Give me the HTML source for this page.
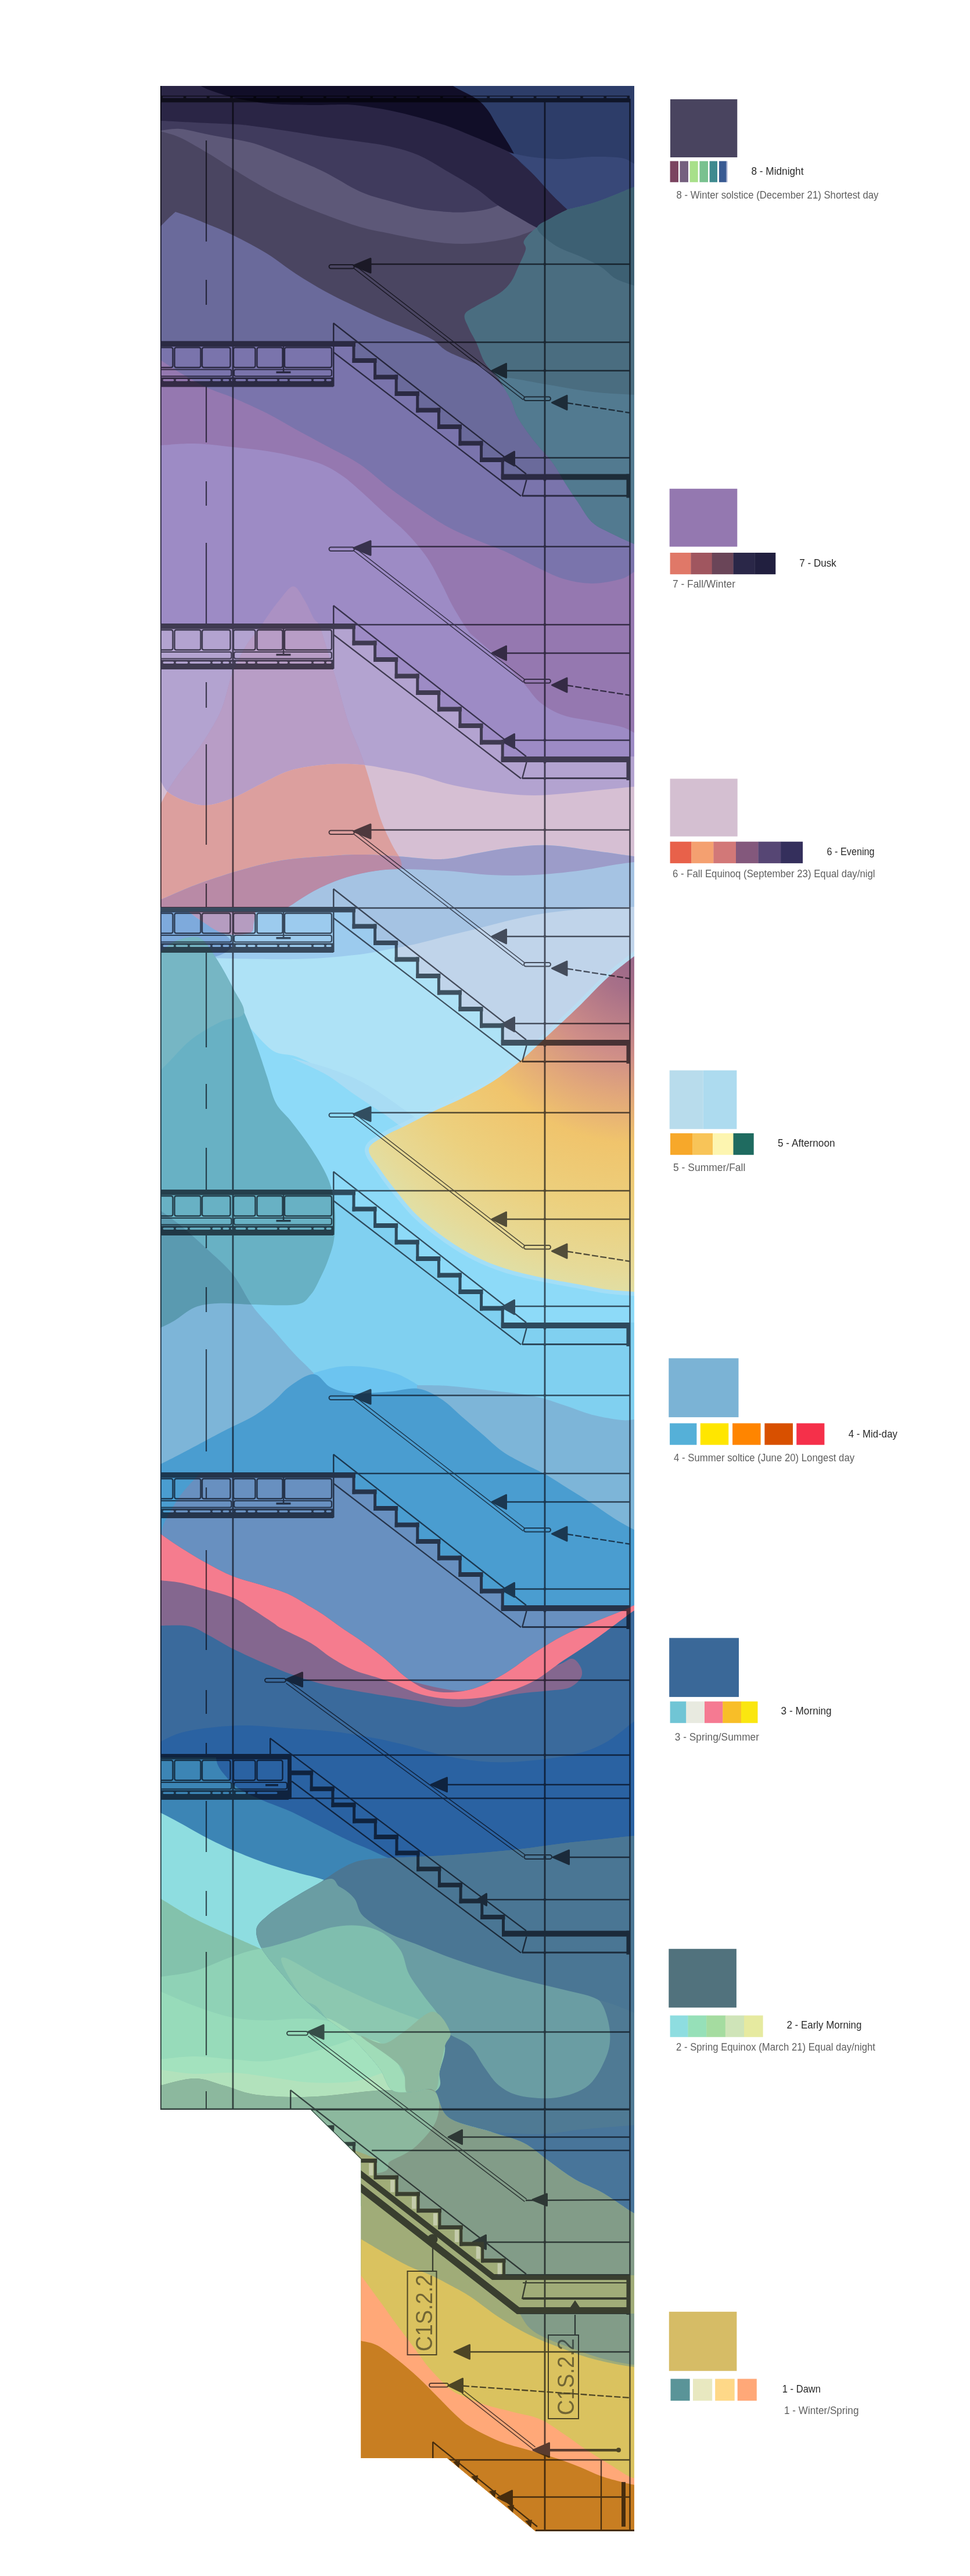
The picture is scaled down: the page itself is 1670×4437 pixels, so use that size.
<!DOCTYPE html>
<html><head><meta charset="utf-8"><title>Stair section colour study</title>
<style>html,body{margin:0;padding:0;background:#fff}body{width:1670px;height:4437px;overflow:hidden}svg{display:block}text{font-family:"Liberation Sans",sans-serif}</style>
</head><body>
<svg width="1670" height="4437" viewBox="0 0 1670 4437">
<defs><clipPath id="pc"><path d="M276 148H1092V4360H922L770 4234H621.5V3719L535 3634H276Z"/></clipPath>
<radialGradient id="sun" gradientUnits="userSpaceOnUse" cx="1100" cy="1640" r="600">
<stop offset="0" stop-color="#96668a"/><stop offset="0.12" stop-color="#a87088"/><stop offset="0.3" stop-color="#cf8e88"/><stop offset="0.42" stop-color="#e2a87a"/><stop offset="0.55" stop-color="#f0c46c"/><stop offset="0.75" stop-color="#ecd07e"/><stop offset="0.92" stop-color="#e6da98"/><stop offset="1" stop-color="#dfe0a8"/></radialGradient><clipPath id="peak"><path d="M505.0 1010.0 C512.5 1010.0 519.2 1025.8 525.0 1035.0 C530.8 1044.2 535.8 1057.8 540.0 1065.0 C544.2 1072.2 545.8 1068.0 550.0 1078.0 C554.2 1088.0 560.0 1108.8 565.0 1125.0 C570.0 1141.2 574.2 1155.0 580.0 1175.0 C585.8 1195.0 593.3 1225.0 600.0 1245.0 C606.7 1265.0 614.2 1279.2 620.0 1295.0 C625.8 1310.8 629.2 1320.8 635.0 1340.0 C640.8 1359.2 648.3 1390.8 655.0 1410.0 C661.7 1429.2 669.2 1443.0 675.0 1455.0 C680.8 1467.0 688.3 1475.0 690.0 1482.0 C691.7 1489.0 694.2 1493.7 685.0 1497.0 C675.8 1500.3 651.7 1499.0 635.0 1502.0 C618.3 1505.0 600.8 1509.5 585.0 1515.0 C569.2 1520.5 554.2 1527.5 540.0 1535.0 C525.8 1542.5 511.7 1552.5 500.0 1560.0 C488.3 1567.5 479.2 1573.7 470.0 1580.0 C460.8 1586.3 451.7 1593.5 445.0 1598.0 C438.3 1602.5 440.0 1605.3 430.0 1607.0 C420.0 1608.7 399.2 1611.7 385.0 1608.0 C370.8 1604.3 355.0 1591.3 345.0 1585.0 C335.0 1578.7 336.5 1573.8 325.0 1570.0 C313.5 1566.2 285.2 1563.7 276.0 1562.0 C266.8 1560.3 270.0 1560.0 270.0 1560.0 L270.0 1385.0 C270.0 1385.0 272.7 1389.2 276.0 1385.0 C279.3 1380.8 284.3 1369.2 290.0 1360.0 C295.7 1350.8 300.8 1342.5 310.0 1330.0 C319.2 1317.5 333.3 1302.5 345.0 1285.0 C356.7 1267.5 370.8 1245.8 380.0 1225.0 C389.2 1204.2 392.5 1179.2 400.0 1160.0 C407.5 1140.8 417.5 1122.5 425.0 1110.0 C432.5 1097.5 439.5 1092.5 445.0 1085.0 C450.5 1077.5 452.2 1073.3 458.0 1065.0 C463.8 1056.7 472.2 1044.2 480.0 1035.0 C487.8 1025.8 497.5 1010.0 505.0 1010.0Z"/></clipPath>
<clipPath id="p2"><path d="M270.0 1075.0 L611.5 1075.0 L611.5 1103.5 L648.1 1103.5 L648.1 1132.0 L684.7 1132.0 L684.7 1160.5 L721.3 1160.5 L721.3 1189.0 L757.9 1189.0 L757.9 1217.5 L794.5 1217.5 L794.5 1246.0 L831.1 1246.0 L831.1 1274.5 L867.7 1274.5 L867.7 1303.0 L1100.0 1303.0 L1100.0 1500.0 L270.0 1500.0 L270.0 1075.0Z"/></clipPath>
<clipPath id="p3"><path d="M270.0 1563.0 L611.5 1563.0 L611.5 1591.5 L648.1 1591.5 L648.1 1620.0 L684.7 1620.0 L684.7 1648.5 L721.3 1648.5 L721.3 1677.0 L757.9 1677.0 L757.9 1705.5 L794.5 1705.5 L794.5 1734.0 L831.1 1734.0 L831.1 1762.5 L867.7 1762.5 L867.7 1791.0 L1100.0 1791.0 L1100.0 2300.0 L270.0 2300.0 L270.0 1563.0Z"/></clipPath>
<clipPath id="teal"><path d="M330.0 1614.0 C338.3 1613.7 342.5 1613.2 350.0 1620.0 C357.5 1626.8 366.7 1641.7 375.0 1655.0 C383.3 1668.3 391.7 1683.3 400.0 1700.0 C408.3 1716.7 417.5 1736.7 425.0 1755.0 C432.5 1773.3 439.2 1793.3 445.0 1810.0 C450.8 1826.7 455.0 1840.0 460.0 1855.0 C465.0 1870.0 468.3 1887.5 475.0 1900.0 C481.7 1912.5 490.8 1918.3 500.0 1930.0 C509.2 1941.7 520.8 1956.7 530.0 1970.0 C539.2 1983.3 548.3 1997.5 555.0 2010.0 C561.7 2022.5 566.3 2031.7 570.0 2045.0 C573.7 2058.3 576.2 2075.0 577.0 2090.0 C577.8 2105.0 577.0 2121.7 575.0 2135.0 C573.0 2148.3 568.8 2159.2 565.0 2170.0 C561.2 2180.8 557.0 2190.0 552.0 2200.0 C547.0 2210.0 542.0 2222.2 535.0 2230.0 C528.0 2237.8 526.7 2244.2 510.0 2247.0 C493.3 2249.8 457.5 2247.3 435.0 2247.0 C412.5 2246.7 391.7 2244.2 375.0 2245.0 C358.3 2245.8 347.5 2247.0 335.0 2252.0 C322.5 2257.0 309.8 2269.2 300.0 2275.0 C290.2 2280.8 281.0 2284.5 276.0 2287.0 C271.0 2289.5 270.0 2290.0 270.0 2290.0 L270.0 1642.0 C270.0 1642.0 271.0 1643.3 276.0 1640.0 C281.0 1636.7 291.0 1626.3 300.0 1622.0 C309.0 1617.7 321.7 1614.3 330.0 1614.0Z"/></clipPath>
<clipPath id="blob"><path d="M555.0 3240.0 C565.8 3233.3 574.2 3225.8 585.0 3220.0 C595.8 3214.2 605.0 3208.3 620.0 3205.0 C635.0 3201.7 654.2 3201.3 675.0 3200.0 C695.8 3198.7 720.8 3198.3 745.0 3197.0 C769.2 3195.7 795.0 3194.0 820.0 3192.0 C845.0 3190.0 870.0 3187.8 895.0 3185.0 C920.0 3182.2 945.0 3178.0 970.0 3175.0 C995.0 3172.0 1024.7 3169.2 1045.0 3167.0 C1065.3 3164.8 1082.8 3163.2 1092.0 3162.0 C1101.2 3160.8 1100.0 3160.0 1100.0 3160.0 L1100.0 3816.0 C1100.0 3816.0 1095.3 3814.5 1085.0 3808.0 C1074.7 3801.5 1054.0 3786.2 1038.0 3777.0 C1022.0 3767.8 1004.5 3762.2 989.0 3753.0 C973.5 3743.8 959.5 3732.3 945.0 3722.0 C930.5 3711.7 918.5 3699.3 902.0 3691.0 C885.5 3682.7 867.7 3679.3 846.0 3672.0 C824.3 3664.7 788.5 3659.0 772.0 3647.0 C755.5 3635.0 757.3 3607.3 747.0 3600.0 C736.7 3592.7 722.0 3603.0 710.0 3603.0 C698.0 3603.0 684.2 3606.3 675.0 3600.0 C665.8 3593.7 662.5 3575.8 655.0 3565.0 C647.5 3554.2 639.2 3545.0 630.0 3535.0 C620.8 3525.0 611.7 3515.0 600.0 3505.0 C588.3 3495.0 573.3 3485.8 560.0 3475.0 C546.7 3464.2 532.5 3452.5 520.0 3440.0 C507.5 3427.5 495.0 3411.7 485.0 3400.0 C475.0 3388.3 466.7 3379.2 460.0 3370.0 C453.3 3360.8 448.0 3353.3 445.0 3345.0 C442.0 3336.7 439.5 3327.5 442.0 3320.0 C444.5 3312.5 453.7 3305.8 460.0 3300.0 C466.3 3294.2 470.0 3291.7 480.0 3285.0 C490.0 3278.3 507.5 3267.5 520.0 3260.0 C532.5 3252.5 544.2 3246.7 555.0 3240.0Z"/></clipPath>
</defs>
<rect width="1670" height="4437" fill="#fff"/>
<g clip-path="url(#pc)">
<rect x="270" y="140" width="830" height="700" fill="#4a4561"/>
<path d="M270.0 224.0 C270.0 224.0 269.3 223.8 276.0 226.0 C282.7 228.2 296.0 230.5 310.0 237.0 C324.0 243.5 344.8 256.0 360.0 265.0 C375.2 274.0 384.3 280.8 401.0 291.0 C417.7 301.2 441.8 316.2 460.0 326.0 C478.2 335.8 493.3 342.7 510.0 350.0 C526.7 357.3 541.7 363.2 560.0 370.0 C578.3 376.8 601.7 385.7 620.0 391.0 C638.3 396.3 653.3 398.5 670.0 402.0 C686.7 405.5 703.3 409.2 720.0 412.0 C736.7 414.8 753.3 417.8 770.0 419.0 C786.7 420.2 803.3 420.2 820.0 419.0 C836.7 417.8 855.8 414.8 870.0 412.0 C884.2 409.2 890.0 407.3 905.0 402.0 C920.0 396.7 960.0 380.0 960.0 380.0 L1100.0 300.0 L1100.0 140.0 L270.0 140.0 L270.0 224.0Z" fill="#5d5878"/>
<path d="M270.0 224.0 C270.0 224.0 269.3 225.3 276.0 225.0 C282.7 224.7 296.0 220.8 310.0 222.0 C324.0 223.2 340.8 228.3 360.0 232.0 C379.2 235.7 408.3 240.2 425.0 244.0 C441.7 247.8 445.8 249.8 460.0 255.0 C474.2 260.2 493.3 268.0 510.0 275.0 C526.7 282.0 541.7 287.8 560.0 297.0 C578.3 306.2 601.7 321.8 620.0 330.0 C638.3 338.2 653.3 341.2 670.0 346.0 C686.7 350.8 703.3 355.8 720.0 359.0 C736.7 362.2 755.8 364.0 770.0 365.0 C784.2 366.0 791.7 366.3 805.0 365.0 C818.3 363.7 834.2 362.8 850.0 357.0 C865.8 351.2 900.0 330.0 900.0 330.0 L1100.0 300.0 L1100.0 140.0 L270.0 140.0 L270.0 224.0Z" fill="#403b5d"/>
<path d="M270.0 208.0 C270.0 208.0 265.0 207.5 276.0 208.0 C287.0 208.5 315.0 210.0 336.0 211.0 C357.0 212.0 385.5 213.0 402.0 214.0 C418.5 215.0 418.5 214.9 435.0 217.0 C451.5 219.1 480.2 223.3 501.0 226.5 C521.8 229.7 540.2 233.1 560.0 236.0 C579.8 238.9 601.7 241.3 620.0 244.0 C638.3 246.7 653.3 248.2 670.0 252.0 C686.7 255.8 703.3 259.8 720.0 267.0 C736.7 274.2 753.3 285.3 770.0 295.0 C786.7 304.7 805.8 315.5 820.0 325.0 C834.2 334.5 844.2 344.5 855.0 352.0 C865.8 359.5 874.2 363.7 885.0 370.0 C895.8 376.3 907.5 383.3 920.0 390.0 C932.5 396.7 960.0 410.0 960.0 410.0 L1100.0 410.0 L1100.0 140.0 L270.0 140.0 L270.0 208.0Z" fill="#2a2545"/>
<path d="M346.0 140.0 C346.0 140.0 342.2 145.0 346.0 148.0 C349.8 151.0 359.7 154.7 369.0 158.0 C378.3 161.3 391.0 165.2 402.0 168.0 C413.0 170.8 424.0 172.8 435.0 174.6 C446.0 176.4 451.5 177.9 468.0 179.0 C484.5 180.1 513.7 180.8 534.0 181.0 C554.3 181.2 575.7 179.8 590.0 180.0 C604.3 180.2 606.7 180.3 620.0 182.0 C633.3 183.7 653.3 186.7 670.0 190.0 C686.7 193.3 703.3 197.5 720.0 202.0 C736.7 206.5 753.3 211.2 770.0 217.0 C786.7 222.8 805.8 231.2 820.0 237.0 C834.2 242.8 844.7 247.5 855.0 252.0 C865.3 256.5 871.2 259.3 882.0 264.0 C892.8 268.7 920.0 280.0 920.0 280.0 L1100.0 280.0 L1100.0 140.0 L346.0 140.0Z" fill="#110e28"/>
<path d="M270.0 392.0 C270.0 392.0 272.7 392.7 276.0 390.0 C279.3 387.3 285.7 380.2 290.0 376.0 C294.3 371.8 302.0 365.0 302.0 365.0 C302.0 365.0 311.2 367.7 320.0 371.0 C328.8 374.3 341.5 379.3 355.0 385.0 C368.5 390.7 383.5 396.3 401.0 405.0 C418.5 413.7 441.8 425.8 460.0 437.0 C478.2 448.2 493.3 461.2 510.0 472.0 C526.7 482.8 543.3 492.8 560.0 502.0 C576.7 511.2 593.3 519.0 610.0 527.0 C626.7 535.0 643.3 542.8 660.0 550.0 C676.7 557.2 695.8 564.2 710.0 570.0 C724.2 575.8 735.0 579.2 745.0 585.0 C755.0 590.8 757.5 598.0 770.0 605.0 C782.5 612.0 808.3 621.2 820.0 627.0 C831.7 632.8 826.7 627.8 840.0 640.0 C853.3 652.2 880.0 680.0 900.0 700.0 C920.0 720.0 943.3 743.3 960.0 760.0 C976.7 776.7 1000.0 800.0 1000.0 800.0 L1000.0 900.0 L270.0 900.0 L270.0 392.0Z" fill="#6a6a9b"/>
<path d="M780.0 140.0 C780.0 140.0 773.3 143.0 780.0 148.0 C786.7 153.0 810.0 163.0 820.0 170.0 C830.0 177.0 834.2 182.5 840.0 190.0 C845.8 197.5 849.2 205.5 855.0 215.0 C860.8 224.5 868.8 237.0 875.0 247.0 C881.2 257.0 884.5 265.8 892.0 275.0 C899.5 284.2 910.3 292.0 920.0 302.0 C929.7 312.0 940.5 325.2 950.0 335.0 C959.5 344.8 968.7 353.5 977.0 361.0 C985.3 368.5 1000.0 380.0 1000.0 380.0 L1100.0 380.0 L1100.0 140.0 L780.0 140.0Z" fill="#2d3d69"/>
<path d="M875.0 262.0 C875.0 262.0 874.5 262.5 882.0 264.0 C889.5 265.5 905.3 269.3 920.0 271.0 C934.7 272.7 953.3 274.2 970.0 274.0 C986.7 273.8 1003.3 270.3 1020.0 270.0 C1036.7 269.7 1058.0 270.0 1070.0 272.0 C1082.0 274.0 1087.0 279.8 1092.0 282.0 C1097.0 284.2 1100.0 285.0 1100.0 285.0 L1100.0 380.0 L1000.0 380.0 C1000.0 380.0 985.3 368.5 977.0 361.0 C968.7 353.5 959.5 344.8 950.0 335.0 C940.5 325.2 929.7 312.0 920.0 302.0 C910.3 292.0 899.5 281.7 892.0 275.0 C884.5 268.3 875.0 262.0 875.0 262.0Z" fill="#384878"/>
<path d="M270.0 588.5 L611.5 588.5 L611.5 617.0 L648.1 617.0 L648.1 645.5 L684.7 645.5 L684.7 674.0 L721.3 674.0 L721.3 702.5 L757.9 702.5 L757.9 731.0 L794.5 731.0 L794.5 759.5 L831.1 759.5 L831.1 788.0 L867.7 788.0 L867.7 816.5 L1100.0 816.5 L1100.0 1350.0 L270.0 1350.0 L270.0 588.5Z" fill="#7a74ac"/>
<path d="M977.0 361.0 C977.0 361.0 959.5 369.3 950.0 375.0 C940.5 380.7 928.0 388.3 920.0 395.0 C912.0 401.7 904.5 409.2 902.0 415.0 C899.5 420.8 906.7 422.5 905.0 430.0 C903.3 437.5 896.2 450.8 892.0 460.0 C887.8 469.2 885.3 477.5 880.0 485.0 C874.7 492.5 870.0 498.0 860.0 505.0 C850.0 512.0 830.0 520.8 820.0 527.0 C810.0 533.2 802.2 535.7 800.0 542.0 C797.8 548.3 803.7 557.0 807.0 565.0 C810.3 573.0 815.3 580.0 820.0 590.0 C824.7 600.0 828.3 614.2 835.0 625.0 C841.7 635.8 852.5 644.2 860.0 655.0 C867.5 665.8 874.7 679.2 880.0 690.0 C885.3 700.8 885.3 708.3 892.0 720.0 C898.7 731.7 910.3 747.5 920.0 760.0 C929.7 772.5 940.8 782.5 950.0 795.0 C959.2 807.5 967.5 823.3 975.0 835.0 C982.5 846.7 987.5 854.2 995.0 865.0 C1002.5 875.8 1010.0 890.8 1020.0 900.0 C1030.0 909.2 1043.0 913.8 1055.0 920.0 C1067.0 926.2 1084.5 933.7 1092.0 937.0 C1099.5 940.3 1100.0 940.0 1100.0 940.0 L1100.0 322.0 C1100.0 322.0 1098.7 319.8 1092.0 322.0 C1085.3 324.2 1072.0 330.3 1060.0 335.0 C1048.0 339.7 1033.8 345.7 1020.0 350.0 C1006.2 354.3 977.0 361.0 977.0 361.0Z" fill="#4a6d80"/>
<path d="M977.0 361.0 C977.0 361.0 958.7 369.8 950.0 375.0 C941.3 380.2 925.8 385.3 925.0 392.0 C924.2 398.7 937.5 408.7 945.0 415.0 C952.5 421.3 960.8 425.5 970.0 430.0 C979.2 434.5 989.2 437.0 1000.0 442.0 C1010.8 447.0 1025.0 453.7 1035.0 460.0 C1045.0 466.3 1050.5 474.7 1060.0 480.0 C1069.5 485.3 1085.3 489.7 1092.0 492.0 C1098.7 494.3 1100.0 494.0 1100.0 494.0 L1100.0 322.0 C1100.0 322.0 1098.7 319.8 1092.0 322.0 C1085.3 324.2 1072.0 330.3 1060.0 335.0 C1048.0 339.7 1033.8 345.7 1020.0 350.0 C1006.2 354.3 977.0 361.0 977.0 361.0Z" fill="#3d6073"/>
<path d="M860.0 655.0 C860.0 655.0 856.7 648.8 870.0 650.0 C883.3 651.2 915.0 657.8 940.0 662.0 C965.0 666.2 994.7 672.0 1020.0 675.0 C1045.3 678.0 1078.7 679.2 1092.0 680.0 C1105.3 680.8 1100.0 680.0 1100.0 680.0 L1100.0 940.0 C1100.0 940.0 1099.5 940.3 1092.0 937.0 C1084.5 933.7 1067.0 926.2 1055.0 920.0 C1043.0 913.8 1030.0 909.2 1020.0 900.0 C1010.0 890.8 1002.5 875.8 995.0 865.0 C987.5 854.2 982.5 846.7 975.0 835.0 C967.5 823.3 959.2 807.5 950.0 795.0 C940.8 782.5 929.7 772.5 920.0 760.0 C910.3 747.5 898.7 731.7 892.0 720.0 C885.3 708.3 885.3 700.8 880.0 690.0 C874.7 679.2 860.0 655.0 860.0 655.0Z" fill="#527a90"/>
<path d="M270.0 618.0 C270.0 618.0 269.3 616.0 276.0 620.0 C282.7 624.0 296.8 634.2 310.0 642.0 C323.2 649.8 339.8 659.8 355.0 667.0 C370.2 674.2 383.5 677.5 401.0 685.0 C418.5 692.5 441.8 702.8 460.0 712.0 C478.2 721.2 493.3 730.8 510.0 740.0 C526.7 749.2 541.7 757.0 560.0 767.0 C578.3 777.0 601.7 787.8 620.0 800.0 C638.3 812.2 653.3 827.5 670.0 840.0 C686.7 852.5 703.3 863.8 720.0 875.0 C736.7 886.2 753.3 897.8 770.0 907.0 C786.7 916.2 803.3 922.8 820.0 930.0 C836.7 937.2 853.3 942.5 870.0 950.0 C886.7 957.5 903.3 967.2 920.0 975.0 C936.7 982.8 953.3 992.0 970.0 997.0 C986.7 1002.0 1003.3 1005.0 1020.0 1005.0 C1036.7 1005.0 1058.0 1000.3 1070.0 997.0 C1082.0 993.7 1087.0 987.3 1092.0 985.0 C1097.0 982.7 1100.0 983.0 1100.0 983.0 L1100.0 1400.0 L270.0 1400.0 L270.0 618.0Z" fill="#9578b0"/>
<path d="M270.0 767.0 C270.0 767.0 265.2 767.5 276.0 767.0 C286.8 766.5 314.2 763.5 335.0 764.0 C355.8 764.5 380.2 767.8 401.0 770.0 C421.8 772.2 441.8 774.2 460.0 777.0 C478.2 779.8 494.2 783.2 510.0 787.0 C525.8 790.8 541.7 794.5 555.0 800.0 C568.3 805.5 579.2 812.5 590.0 820.0 C600.8 827.5 608.3 834.7 620.0 845.0 C631.7 855.3 646.7 869.8 660.0 882.0 C673.3 894.2 687.5 905.0 700.0 918.0 C712.5 931.0 725.0 945.5 735.0 960.0 C745.0 974.5 752.5 990.8 760.0 1005.0 C767.5 1019.2 772.5 1031.7 780.0 1045.0 C787.5 1058.3 798.3 1075.8 805.0 1085.0 C811.7 1094.2 810.8 1091.7 820.0 1100.0 C829.2 1108.3 846.7 1122.5 860.0 1135.0 C873.3 1147.5 888.3 1162.5 900.0 1175.0 C911.7 1187.5 918.3 1200.5 930.0 1210.0 C941.7 1219.5 955.0 1226.7 970.0 1232.0 C985.0 1237.3 1003.3 1238.7 1020.0 1242.0 C1036.7 1245.3 1058.0 1248.7 1070.0 1252.0 C1082.0 1255.3 1087.0 1260.0 1092.0 1262.0 C1097.0 1264.0 1100.0 1264.0 1100.0 1264.0 L1100.0 1500.0 L270.0 1500.0 L270.0 767.0Z" fill="#9d8bc5"/>
<path d="M270.0 1075.0 L611.5 1075.0 L611.5 1103.5 L648.1 1103.5 L648.1 1132.0 L684.7 1132.0 L684.7 1160.5 L721.3 1160.5 L721.3 1189.0 L757.9 1189.0 L757.9 1217.5 L794.5 1217.5 L794.5 1246.0 L831.1 1246.0 L831.1 1274.5 L867.7 1274.5 L867.7 1303.0 L1100.0 1303.0 L1100.0 1500.0 L270.0 1500.0 L270.0 1075.0Z" fill="#b3a3d0"/>
<path d="M505.0 1010.0 C512.5 1010.0 519.2 1025.8 525.0 1035.0 C530.8 1044.2 535.8 1057.8 540.0 1065.0 C544.2 1072.2 545.8 1068.0 550.0 1078.0 C554.2 1088.0 560.0 1108.8 565.0 1125.0 C570.0 1141.2 574.2 1155.0 580.0 1175.0 C585.8 1195.0 593.3 1225.0 600.0 1245.0 C606.7 1265.0 614.2 1279.2 620.0 1295.0 C625.8 1310.8 629.2 1320.8 635.0 1340.0 C640.8 1359.2 648.3 1390.8 655.0 1410.0 C661.7 1429.2 669.2 1443.0 675.0 1455.0 C680.8 1467.0 688.3 1475.0 690.0 1482.0 C691.7 1489.0 694.2 1493.7 685.0 1497.0 C675.8 1500.3 651.7 1499.0 635.0 1502.0 C618.3 1505.0 600.8 1509.5 585.0 1515.0 C569.2 1520.5 554.2 1527.5 540.0 1535.0 C525.8 1542.5 511.7 1552.5 500.0 1560.0 C488.3 1567.5 479.2 1573.7 470.0 1580.0 C460.8 1586.3 451.7 1593.5 445.0 1598.0 C438.3 1602.5 440.0 1605.3 430.0 1607.0 C420.0 1608.7 399.2 1611.7 385.0 1608.0 C370.8 1604.3 355.0 1591.3 345.0 1585.0 C335.0 1578.7 336.5 1573.8 325.0 1570.0 C313.5 1566.2 285.2 1563.7 276.0 1562.0 C266.8 1560.3 270.0 1560.0 270.0 1560.0 L270.0 1385.0 C270.0 1385.0 272.7 1389.2 276.0 1385.0 C279.3 1380.8 284.3 1369.2 290.0 1360.0 C295.7 1350.8 300.8 1342.5 310.0 1330.0 C319.2 1317.5 333.3 1302.5 345.0 1285.0 C356.7 1267.5 370.8 1245.8 380.0 1225.0 C389.2 1204.2 392.5 1179.2 400.0 1160.0 C407.5 1140.8 417.5 1122.5 425.0 1110.0 C432.5 1097.5 439.5 1092.5 445.0 1085.0 C450.5 1077.5 452.2 1073.3 458.0 1065.0 C463.8 1056.7 472.2 1044.2 480.0 1035.0 C487.8 1025.8 497.5 1010.0 505.0 1010.0Z" fill="#ab91c3"/>
<path d="M505.0 1010.0 C512.5 1010.0 519.2 1025.8 525.0 1035.0 C530.8 1044.2 535.8 1057.8 540.0 1065.0 C544.2 1072.2 545.8 1068.0 550.0 1078.0 C554.2 1088.0 560.0 1108.8 565.0 1125.0 C570.0 1141.2 574.2 1155.0 580.0 1175.0 C585.8 1195.0 593.3 1225.0 600.0 1245.0 C606.7 1265.0 614.2 1279.2 620.0 1295.0 C625.8 1310.8 629.2 1320.8 635.0 1340.0 C640.8 1359.2 648.3 1390.8 655.0 1410.0 C661.7 1429.2 669.2 1443.0 675.0 1455.0 C680.8 1467.0 688.3 1475.0 690.0 1482.0 C691.7 1489.0 694.2 1493.7 685.0 1497.0 C675.8 1500.3 651.7 1499.0 635.0 1502.0 C618.3 1505.0 600.8 1509.5 585.0 1515.0 C569.2 1520.5 554.2 1527.5 540.0 1535.0 C525.8 1542.5 511.7 1552.5 500.0 1560.0 C488.3 1567.5 479.2 1573.7 470.0 1580.0 C460.8 1586.3 451.7 1593.5 445.0 1598.0 C438.3 1602.5 440.0 1605.3 430.0 1607.0 C420.0 1608.7 399.2 1611.7 385.0 1608.0 C370.8 1604.3 355.0 1591.3 345.0 1585.0 C335.0 1578.7 336.5 1573.8 325.0 1570.0 C313.5 1566.2 285.2 1563.7 276.0 1562.0 C266.8 1560.3 270.0 1560.0 270.0 1560.0 L270.0 1385.0 C270.0 1385.0 272.7 1389.2 276.0 1385.0 C279.3 1380.8 284.3 1369.2 290.0 1360.0 C295.7 1350.8 300.8 1342.5 310.0 1330.0 C319.2 1317.5 333.3 1302.5 345.0 1285.0 C356.7 1267.5 370.8 1245.8 380.0 1225.0 C389.2 1204.2 392.5 1179.2 400.0 1160.0 C407.5 1140.8 417.5 1122.5 425.0 1110.0 C432.5 1097.5 439.5 1092.5 445.0 1085.0 C450.5 1077.5 452.2 1073.3 458.0 1065.0 C463.8 1056.7 472.2 1044.2 480.0 1035.0 C487.8 1025.8 497.5 1010.0 505.0 1010.0Z" fill="#b89dc6" clip-path="url(#p2)"/>
<path d="M270.0 1343.0 C270.0 1343.0 272.7 1341.3 276.0 1345.0 C279.3 1348.7 282.7 1359.2 290.0 1365.0 C297.3 1370.8 309.2 1376.3 320.0 1380.0 C330.8 1383.7 341.7 1387.8 355.0 1387.0 C368.3 1386.2 384.2 1381.2 400.0 1375.0 C415.8 1368.8 433.3 1358.0 450.0 1350.0 C466.7 1342.0 481.7 1332.5 500.0 1327.0 C518.3 1321.5 540.0 1318.7 560.0 1317.0 C580.0 1315.3 601.7 1315.7 620.0 1317.0 C638.3 1318.3 653.3 1322.0 670.0 1325.0 C686.7 1328.0 703.3 1330.8 720.0 1335.0 C736.7 1339.2 753.3 1345.8 770.0 1350.0 C786.7 1354.2 803.3 1357.2 820.0 1360.0 C836.7 1362.8 853.3 1365.3 870.0 1367.0 C886.7 1368.7 903.3 1370.0 920.0 1370.0 C936.7 1370.0 953.3 1368.3 970.0 1367.0 C986.7 1365.7 999.7 1364.0 1020.0 1362.0 C1040.3 1360.0 1078.7 1356.3 1092.0 1355.0 C1105.3 1353.7 1100.0 1354.0 1100.0 1354.0 L1100.0 1700.0 L270.0 1700.0 L270.0 1343.0Z" fill="#d6bfd3"/>
<path d="M270.0 1343.0 C270.0 1343.0 272.7 1341.3 276.0 1345.0 C279.3 1348.7 282.7 1359.2 290.0 1365.0 C297.3 1370.8 309.2 1376.3 320.0 1380.0 C330.8 1383.7 341.7 1387.8 355.0 1387.0 C368.3 1386.2 384.2 1381.2 400.0 1375.0 C415.8 1368.8 433.3 1358.0 450.0 1350.0 C466.7 1342.0 481.7 1332.5 500.0 1327.0 C518.3 1321.5 540.0 1318.7 560.0 1317.0 C580.0 1315.3 601.7 1315.7 620.0 1317.0 C638.3 1318.3 653.3 1322.0 670.0 1325.0 C686.7 1328.0 703.3 1330.8 720.0 1335.0 C736.7 1339.2 753.3 1345.8 770.0 1350.0 C786.7 1354.2 803.3 1357.2 820.0 1360.0 C836.7 1362.8 853.3 1365.3 870.0 1367.0 C886.7 1368.7 903.3 1370.0 920.0 1370.0 C936.7 1370.0 953.3 1368.3 970.0 1367.0 C986.7 1365.7 999.7 1364.0 1020.0 1362.0 C1040.3 1360.0 1078.7 1356.3 1092.0 1355.0 C1105.3 1353.7 1100.0 1354.0 1100.0 1354.0 L1100.0 1700.0 L270.0 1700.0 L270.0 1343.0Z" fill="#dc9f9e" clip-path="url(#peak)"/>
<path d="M270.0 1550.0 C270.0 1550.0 265.2 1554.2 276.0 1550.0 C286.8 1545.8 312.7 1533.3 335.0 1525.0 C357.3 1516.7 385.0 1507.2 410.0 1500.0 C435.0 1492.8 460.0 1486.2 485.0 1482.0 C510.0 1477.8 537.5 1476.7 560.0 1475.0 C582.5 1473.3 599.2 1472.0 620.0 1472.0 C640.8 1472.0 661.7 1473.7 685.0 1475.0 C708.3 1476.3 737.5 1480.8 760.0 1480.0 C782.5 1479.2 800.0 1473.3 820.0 1470.0 C840.0 1466.7 859.2 1462.3 880.0 1460.0 C900.8 1457.7 921.7 1455.2 945.0 1456.0 C968.3 1456.8 995.5 1461.8 1020.0 1465.0 C1044.5 1468.2 1078.7 1473.2 1092.0 1475.0 C1105.3 1476.8 1100.0 1476.0 1100.0 1476.0 L1100.0 2100.0 L270.0 2100.0 L270.0 1550.0Z" fill="#c0d4ea"/>
<path d="M270.0 1550.0 C270.0 1550.0 265.2 1554.2 276.0 1550.0 C286.8 1545.8 312.7 1533.3 335.0 1525.0 C357.3 1516.7 385.0 1507.2 410.0 1500.0 C435.0 1492.8 460.0 1486.2 485.0 1482.0 C510.0 1477.8 537.5 1476.7 560.0 1475.0 C582.5 1473.3 599.2 1472.0 620.0 1472.0 C640.8 1472.0 661.7 1473.7 685.0 1475.0 C708.3 1476.3 737.5 1480.8 760.0 1480.0 C782.5 1479.2 800.0 1473.3 820.0 1470.0 C840.0 1466.7 859.2 1462.3 880.0 1460.0 C900.8 1457.7 921.7 1455.2 945.0 1456.0 C968.3 1456.8 995.5 1461.8 1020.0 1465.0 C1044.5 1468.2 1078.7 1473.2 1092.0 1475.0 C1105.3 1476.8 1100.0 1476.0 1100.0 1476.0 L1100.0 1562.0 C1100.0 1562.0 1105.3 1561.5 1092.0 1562.0 C1078.7 1562.5 1040.3 1563.8 1020.0 1565.0 C999.7 1566.2 986.7 1567.2 970.0 1569.0 C953.3 1570.8 936.7 1573.0 920.0 1576.0 C903.3 1579.0 886.7 1583.0 870.0 1587.0 C853.3 1591.0 836.7 1595.8 820.0 1600.0 C803.3 1604.2 786.7 1607.8 770.0 1612.0 C753.3 1616.2 736.7 1621.2 720.0 1625.0 C703.3 1628.8 688.3 1631.7 670.0 1635.0 C651.7 1638.3 636.7 1642.2 610.0 1645.0 C583.3 1647.8 551.7 1651.2 510.0 1652.0 C468.3 1652.8 399.0 1651.2 360.0 1650.0 C321.0 1648.8 291.0 1645.8 276.0 1645.0 C261.0 1644.2 270.0 1645.0 270.0 1645.0 L270.0 1550.0Z" fill="#a5c3e3"/>
<path d="M270.0 1550.0 C270.0 1550.0 265.2 1554.2 276.0 1550.0 C286.8 1545.8 312.7 1533.3 335.0 1525.0 C357.3 1516.7 385.0 1507.2 410.0 1500.0 C435.0 1492.8 460.0 1486.2 485.0 1482.0 C510.0 1477.8 537.5 1476.7 560.0 1475.0 C582.5 1473.3 599.2 1472.0 620.0 1472.0 C640.8 1472.0 661.7 1473.7 685.0 1475.0 C708.3 1476.3 737.5 1480.8 760.0 1480.0 C782.5 1479.2 800.0 1473.3 820.0 1470.0 C840.0 1466.7 859.2 1462.3 880.0 1460.0 C900.8 1457.7 921.7 1455.2 945.0 1456.0 C968.3 1456.8 995.5 1461.8 1020.0 1465.0 C1044.5 1468.2 1078.7 1473.2 1092.0 1475.0 C1105.3 1476.8 1100.0 1476.0 1100.0 1476.0 L1100.0 1485.0 C1100.0 1485.0 1099.5 1484.2 1092.0 1485.0 C1084.5 1485.8 1071.2 1487.5 1055.0 1490.0 C1038.8 1492.5 1017.5 1497.2 995.0 1500.0 C972.5 1502.8 945.0 1505.8 920.0 1507.0 C895.0 1508.2 870.0 1508.2 845.0 1507.0 C820.0 1505.8 796.7 1501.7 770.0 1500.0 C743.3 1498.3 707.5 1496.7 685.0 1497.0 C662.5 1497.3 651.7 1499.0 635.0 1502.0 C618.3 1505.0 600.8 1509.5 585.0 1515.0 C569.2 1520.5 554.2 1527.5 540.0 1535.0 C525.8 1542.5 511.7 1552.5 500.0 1560.0 C488.3 1567.5 480.0 1573.3 470.0 1580.0 C460.0 1586.7 451.7 1591.7 440.0 1600.0 C428.3 1608.3 413.3 1621.7 400.0 1630.0 C386.7 1638.3 380.7 1647.5 360.0 1650.0 C339.3 1652.5 291.0 1645.8 276.0 1645.0 C261.0 1644.2 270.0 1645.0 270.0 1645.0 L270.0 1550.0Z" fill="#9c9cc9"/>
<path d="M270.0 1550.0 C270.0 1550.0 265.2 1554.2 276.0 1550.0 C286.8 1545.8 312.7 1533.3 335.0 1525.0 C357.3 1516.7 385.0 1507.2 410.0 1500.0 C435.0 1492.8 460.0 1486.2 485.0 1482.0 C510.0 1477.8 537.5 1476.7 560.0 1475.0 C582.5 1473.3 599.2 1472.0 620.0 1472.0 C640.8 1472.0 661.7 1473.7 685.0 1475.0 C708.3 1476.3 737.5 1480.8 760.0 1480.0 C782.5 1479.2 800.0 1473.3 820.0 1470.0 C840.0 1466.7 859.2 1462.3 880.0 1460.0 C900.8 1457.7 921.7 1455.2 945.0 1456.0 C968.3 1456.8 995.5 1461.8 1020.0 1465.0 C1044.5 1468.2 1078.7 1473.2 1092.0 1475.0 C1105.3 1476.8 1100.0 1476.0 1100.0 1476.0 L1100.0 1485.0 C1100.0 1485.0 1099.5 1484.2 1092.0 1485.0 C1084.5 1485.8 1071.2 1487.5 1055.0 1490.0 C1038.8 1492.5 1017.5 1497.2 995.0 1500.0 C972.5 1502.8 945.0 1505.8 920.0 1507.0 C895.0 1508.2 870.0 1508.2 845.0 1507.0 C820.0 1505.8 796.7 1501.7 770.0 1500.0 C743.3 1498.3 707.5 1496.7 685.0 1497.0 C662.5 1497.3 651.7 1499.0 635.0 1502.0 C618.3 1505.0 600.8 1509.5 585.0 1515.0 C569.2 1520.5 554.2 1527.5 540.0 1535.0 C525.8 1542.5 511.7 1552.5 500.0 1560.0 C488.3 1567.5 480.0 1573.3 470.0 1580.0 C460.0 1586.7 451.7 1591.7 440.0 1600.0 C428.3 1608.3 413.3 1621.7 400.0 1630.0 C386.7 1638.3 380.7 1647.5 360.0 1650.0 C339.3 1652.5 291.0 1645.8 276.0 1645.0 C261.0 1644.2 270.0 1645.0 270.0 1645.0 L270.0 1550.0Z" fill="#b98aa6" clip-path="url(#peak)"/>
<path d="M270.0 1563.0 L611.5 1563.0 L611.5 1591.5 L648.1 1591.5 L648.1 1620.0 L684.7 1620.0 L684.7 1648.5 L721.3 1648.5 L721.3 1677.0 L757.9 1677.0 L757.9 1705.5 L794.5 1705.5 L794.5 1734.0 L831.1 1734.0 L831.1 1762.5 L867.7 1762.5 L867.7 1791.0 L1100.0 1791.0 L1100.0 2300.0 L270.0 2300.0 L270.0 1563.0Z" fill="#aee2f6"/>
<path d="M270.0 1550.0 C270.0 1550.0 265.2 1554.2 276.0 1550.0 C286.8 1545.8 312.7 1533.3 335.0 1525.0 C357.3 1516.7 385.0 1507.2 410.0 1500.0 C435.0 1492.8 460.0 1486.2 485.0 1482.0 C510.0 1477.8 537.5 1476.7 560.0 1475.0 C582.5 1473.3 599.2 1472.0 620.0 1472.0 C640.8 1472.0 661.7 1473.7 685.0 1475.0 C708.3 1476.3 737.5 1480.8 760.0 1480.0 C782.5 1479.2 800.0 1473.3 820.0 1470.0 C840.0 1466.7 859.2 1462.3 880.0 1460.0 C900.8 1457.7 921.7 1455.2 945.0 1456.0 C968.3 1456.8 995.5 1461.8 1020.0 1465.0 C1044.5 1468.2 1078.7 1473.2 1092.0 1475.0 C1105.3 1476.8 1100.0 1476.0 1100.0 1476.0 L1100.0 1562.0 C1100.0 1562.0 1105.3 1561.5 1092.0 1562.0 C1078.7 1562.5 1040.3 1563.8 1020.0 1565.0 C999.7 1566.2 986.7 1567.2 970.0 1569.0 C953.3 1570.8 936.7 1573.0 920.0 1576.0 C903.3 1579.0 886.7 1583.0 870.0 1587.0 C853.3 1591.0 836.7 1595.8 820.0 1600.0 C803.3 1604.2 786.7 1607.8 770.0 1612.0 C753.3 1616.2 736.7 1621.2 720.0 1625.0 C703.3 1628.8 688.3 1631.7 670.0 1635.0 C651.7 1638.3 636.7 1642.2 610.0 1645.0 C583.3 1647.8 551.7 1651.2 510.0 1652.0 C468.3 1652.8 399.0 1651.2 360.0 1650.0 C321.0 1648.8 291.0 1645.8 276.0 1645.0 C261.0 1644.2 270.0 1645.0 270.0 1645.0 L270.0 1550.0Z" fill="#9ccbee" clip-path="url(#p3)"/>
<path d="M270.0 1570.0 L325.0 1570.0 C325.0 1570.0 335.0 1578.7 345.0 1585.0 C355.0 1591.3 375.8 1600.5 385.0 1608.0 C394.2 1615.5 404.2 1623.0 400.0 1630.0 C395.8 1637.0 380.7 1647.5 360.0 1650.0 C339.3 1652.5 291.0 1645.8 276.0 1645.0 C261.0 1644.2 270.0 1645.0 270.0 1645.0 L270.0 1570.0Z" fill="#7eaadc"/>
<path d="M325.0 1570.0 L440.0 1570.0 C440.0 1570.0 438.7 1583.8 437.0 1590.0 C435.3 1596.2 438.7 1604.0 430.0 1607.0 C421.3 1610.0 399.2 1611.7 385.0 1608.0 C370.8 1604.3 355.0 1591.3 345.0 1585.0 C335.0 1578.7 325.0 1570.0 325.0 1570.0Z" fill="#b59cc0"/>
<path d="M425.0 1765.0 C425.0 1765.0 422.5 1762.5 430.0 1770.0 C437.5 1777.5 456.7 1801.7 470.0 1810.0 C483.3 1818.3 495.0 1814.2 510.0 1820.0 C525.0 1825.8 543.3 1835.0 560.0 1845.0 C576.7 1855.0 596.7 1870.0 610.0 1880.0 C623.3 1890.0 628.3 1897.5 640.0 1905.0 C651.7 1912.5 666.7 1920.0 680.0 1925.0 C693.3 1930.0 700.0 1930.8 720.0 1935.0 C740.0 1939.2 800.0 1950.0 800.0 1950.0 L1100.0 1950.0 L1100.0 2700.0 L270.0 2700.0 L270.0 1765.0 L425.0 1765.0Z" fill="#8ddaf8"/>
<path d="M500.0 1822.0 C500.0 1822.0 540.0 1831.3 560.0 1838.0 C580.0 1844.7 600.0 1851.7 620.0 1862.0 C640.0 1872.3 661.7 1887.0 680.0 1900.0 C698.3 1913.0 726.7 1932.5 730.0 1940.0 C733.3 1947.5 711.7 1948.7 700.0 1945.0 C688.3 1941.3 675.0 1928.0 660.0 1918.0 C645.0 1908.0 626.7 1896.3 610.0 1885.0 C593.3 1873.7 578.3 1860.5 560.0 1850.0 C541.7 1839.5 500.0 1822.0 500.0 1822.0Z" fill="#a8dcf4"/>
<path d="M270.0 2050.0 L611.5 2050.0 L611.5 2078.5 L648.1 2078.5 L648.1 2107.0 L684.7 2107.0 L684.7 2135.5 L721.3 2135.5 L721.3 2164.0 L757.9 2164.0 L757.9 2192.5 L794.5 2192.5 L794.5 2221.0 L831.1 2221.0 L831.1 2249.5 L867.7 2249.5 L867.7 2278.0 L1100.0 2278.0 L1100.0 2700.0 L270.0 2700.0 L270.0 2050.0Z" fill="#80d0f0"/>
<path d="M1100.0 1642.0 C1100.0 1642.0 1101.2 1639.8 1092.0 1647.0 C1082.8 1654.2 1061.2 1670.3 1045.0 1685.0 C1028.8 1699.7 1011.7 1718.8 995.0 1735.0 C978.3 1751.2 959.2 1768.7 945.0 1782.0 C930.8 1795.3 920.8 1805.3 910.0 1815.0 C899.2 1824.7 890.8 1831.7 880.0 1840.0 C869.2 1848.3 859.2 1856.3 845.0 1865.0 C830.8 1873.7 811.7 1883.7 795.0 1892.0 C778.3 1900.3 760.8 1907.3 745.0 1915.0 C729.2 1922.7 714.2 1930.8 700.0 1938.0 C685.8 1945.2 670.8 1951.0 660.0 1958.0 C649.2 1965.0 635.8 1970.5 635.0 1980.0 C634.2 1989.5 646.7 2002.5 655.0 2015.0 C663.3 2027.5 674.2 2041.7 685.0 2055.0 C695.8 2068.3 705.8 2081.7 720.0 2095.0 C734.2 2108.3 753.3 2123.3 770.0 2135.0 C786.7 2146.7 803.3 2156.7 820.0 2165.0 C836.7 2173.3 851.7 2179.2 870.0 2185.0 C888.3 2190.8 909.2 2195.5 930.0 2200.0 C950.8 2204.5 975.8 2208.5 995.0 2212.0 C1014.2 2215.5 1028.8 2218.8 1045.0 2221.0 C1061.2 2223.2 1082.8 2224.2 1092.0 2225.0 C1101.2 2225.8 1100.0 2226.0 1100.0 2226.0 L1100.0 1642.0Z" fill="none" stroke="#b4e2f6" stroke-width="14" stroke-opacity="0.55"/>
<path d="M1100.0 1642.0 C1100.0 1642.0 1101.2 1639.8 1092.0 1647.0 C1082.8 1654.2 1061.2 1670.3 1045.0 1685.0 C1028.8 1699.7 1011.7 1718.8 995.0 1735.0 C978.3 1751.2 959.2 1768.7 945.0 1782.0 C930.8 1795.3 920.8 1805.3 910.0 1815.0 C899.2 1824.7 890.8 1831.7 880.0 1840.0 C869.2 1848.3 859.2 1856.3 845.0 1865.0 C830.8 1873.7 811.7 1883.7 795.0 1892.0 C778.3 1900.3 760.8 1907.3 745.0 1915.0 C729.2 1922.7 714.2 1930.8 700.0 1938.0 C685.8 1945.2 670.8 1951.0 660.0 1958.0 C649.2 1965.0 635.8 1970.5 635.0 1980.0 C634.2 1989.5 646.7 2002.5 655.0 2015.0 C663.3 2027.5 674.2 2041.7 685.0 2055.0 C695.8 2068.3 705.8 2081.7 720.0 2095.0 C734.2 2108.3 753.3 2123.3 770.0 2135.0 C786.7 2146.7 803.3 2156.7 820.0 2165.0 C836.7 2173.3 851.7 2179.2 870.0 2185.0 C888.3 2190.8 909.2 2195.5 930.0 2200.0 C950.8 2204.5 975.8 2208.5 995.0 2212.0 C1014.2 2215.5 1028.8 2218.8 1045.0 2221.0 C1061.2 2223.2 1082.8 2224.2 1092.0 2225.0 C1101.2 2225.8 1100.0 2226.0 1100.0 2226.0 L1100.0 1642.0Z" fill="url(#sun)"/>
<path d="M330.0 1614.0 C338.3 1613.7 342.5 1613.2 350.0 1620.0 C357.5 1626.8 366.7 1641.7 375.0 1655.0 C383.3 1668.3 391.7 1683.3 400.0 1700.0 C408.3 1716.7 417.5 1736.7 425.0 1755.0 C432.5 1773.3 439.2 1793.3 445.0 1810.0 C450.8 1826.7 455.0 1840.0 460.0 1855.0 C465.0 1870.0 468.3 1887.5 475.0 1900.0 C481.7 1912.5 490.8 1918.3 500.0 1930.0 C509.2 1941.7 520.8 1956.7 530.0 1970.0 C539.2 1983.3 548.3 1997.5 555.0 2010.0 C561.7 2022.5 566.3 2031.7 570.0 2045.0 C573.7 2058.3 576.2 2075.0 577.0 2090.0 C577.8 2105.0 577.0 2121.7 575.0 2135.0 C573.0 2148.3 568.8 2159.2 565.0 2170.0 C561.2 2180.8 557.0 2190.0 552.0 2200.0 C547.0 2210.0 542.0 2222.2 535.0 2230.0 C528.0 2237.8 526.7 2244.2 510.0 2247.0 C493.3 2249.8 457.5 2247.3 435.0 2247.0 C412.5 2246.7 391.7 2244.2 375.0 2245.0 C358.3 2245.8 347.5 2247.0 335.0 2252.0 C322.5 2257.0 309.8 2269.2 300.0 2275.0 C290.2 2280.8 281.0 2284.5 276.0 2287.0 C271.0 2289.5 270.0 2290.0 270.0 2290.0 L270.0 1642.0 C270.0 1642.0 271.0 1643.3 276.0 1640.0 C281.0 1636.7 291.0 1626.3 300.0 1622.0 C309.0 1617.7 321.7 1614.3 330.0 1614.0Z" fill="#68b1c4"/>
<path d="M330.0 1614.0 C338.3 1613.7 342.5 1613.2 350.0 1620.0 C357.5 1626.8 366.7 1641.7 375.0 1655.0 C383.3 1668.3 392.5 1685.0 400.0 1700.0 C407.5 1715.0 423.3 1735.0 420.0 1745.0 C416.7 1755.0 395.0 1752.5 380.0 1760.0 C365.0 1767.5 345.0 1778.3 330.0 1790.0 C315.0 1801.7 300.0 1820.0 290.0 1830.0 C280.0 1840.0 270.0 1850.0 270.0 1850.0 L270.0 1642.0 C270.0 1642.0 271.0 1643.3 276.0 1640.0 C281.0 1636.7 291.0 1626.3 300.0 1622.0 C309.0 1617.7 321.7 1614.3 330.0 1614.0Z" fill="#76b6c4"/>
<path d="M270.0 2083.0 C270.0 2083.0 269.3 2080.5 276.0 2085.0 C282.7 2089.5 296.8 2099.2 310.0 2110.0 C323.2 2120.8 339.8 2135.8 355.0 2150.0 C370.2 2164.2 387.7 2178.3 401.0 2195.0 C414.3 2211.7 423.5 2234.2 435.0 2250.0 C446.5 2265.8 458.3 2276.7 470.0 2290.0 C481.7 2303.3 493.3 2317.5 505.0 2330.0 C516.7 2342.5 529.2 2353.3 540.0 2365.0 C550.8 2376.7 570.0 2400.0 570.0 2400.0 L570.0 2600.0 L270.0 2600.0 L270.0 2083.0Z" fill="#7db5d8"/>
<path d="M270.0 2083.0 C270.0 2083.0 269.3 2080.5 276.0 2085.0 C282.7 2089.5 296.8 2099.2 310.0 2110.0 C323.2 2120.8 339.8 2135.8 355.0 2150.0 C370.2 2164.2 387.7 2178.3 401.0 2195.0 C414.3 2211.7 423.5 2234.2 435.0 2250.0 C446.5 2265.8 458.3 2276.7 470.0 2290.0 C481.7 2303.3 493.3 2317.5 505.0 2330.0 C516.7 2342.5 529.2 2353.3 540.0 2365.0 C550.8 2376.7 570.0 2400.0 570.0 2400.0 L570.0 2600.0 L270.0 2600.0 L270.0 2083.0Z" fill="#5a9ab0" clip-path="url(#teal)"/>
<path d="M540.0 2365.0 C540.0 2365.0 569.2 2355.7 585.0 2354.0 C600.8 2352.3 618.3 2352.8 635.0 2355.0 C651.7 2357.2 670.8 2361.8 685.0 2367.0 C699.2 2372.2 720.0 2386.0 720.0 2386.0 L720.0 2420.0 L540.0 2420.0 L540.0 2365.0Z" fill="#6cc4f0"/>
<path d="M718.0 2386.0 C718.0 2386.0 748.8 2385.5 770.0 2387.0 C791.2 2388.5 820.0 2392.0 845.0 2395.0 C870.0 2398.0 899.2 2400.8 920.0 2405.0 C940.8 2409.2 953.3 2414.7 970.0 2420.0 C986.7 2425.3 1003.3 2432.7 1020.0 2437.0 C1036.7 2441.3 1058.0 2444.7 1070.0 2446.0 C1082.0 2447.3 1087.0 2445.2 1092.0 2445.0 C1097.0 2444.8 1100.0 2445.0 1100.0 2445.0 L1100.0 2700.0 L718.0 2700.0 L718.0 2386.0Z" fill="#7db5d8"/>
<path d="M270.0 2524.0 C270.0 2524.0 271.0 2524.3 276.0 2522.0 C281.0 2519.7 291.8 2514.2 300.0 2510.0 C308.2 2505.8 310.8 2504.5 325.0 2497.0 C339.2 2489.5 366.7 2474.5 385.0 2465.0 C403.3 2455.5 420.8 2448.3 435.0 2440.0 C449.2 2431.7 459.2 2423.8 470.0 2415.0 C480.8 2406.2 488.3 2395.0 500.0 2387.0 C511.7 2379.0 528.3 2366.5 540.0 2367.0 C551.7 2367.5 558.3 2384.5 570.0 2390.0 C581.7 2395.5 593.3 2398.8 610.0 2400.0 C626.7 2401.2 651.7 2398.3 670.0 2397.0 C688.3 2395.7 705.0 2389.8 720.0 2392.0 C735.0 2394.2 747.5 2402.0 760.0 2410.0 C772.5 2418.0 783.3 2430.0 795.0 2440.0 C806.7 2450.0 818.3 2460.0 830.0 2470.0 C841.7 2480.0 853.3 2491.7 865.0 2500.0 C876.7 2508.3 887.5 2513.3 900.0 2520.0 C912.5 2526.7 926.7 2532.5 940.0 2540.0 C953.3 2547.5 966.7 2556.7 980.0 2565.0 C993.3 2573.3 1006.7 2581.3 1020.0 2590.0 C1033.3 2598.7 1048.0 2609.5 1060.0 2617.0 C1072.0 2624.5 1085.3 2631.7 1092.0 2635.0 C1098.7 2638.3 1100.0 2637.0 1100.0 2637.0 L1100.0 2950.0 L270.0 2950.0 L270.0 2524.0Z" fill="#4a9dd0"/>
<path d="M345.0 2537.0 L611.5 2537.0 L611.5 2565.5 L648.1 2565.5 L648.1 2594.0 L684.7 2594.0 L684.7 2622.5 L721.3 2622.5 L721.3 2651.0 L757.9 2651.0 L757.9 2679.5 L794.5 2679.5 L794.5 2708.0 L831.1 2708.0 L831.1 2736.5 L867.7 2736.5 L867.7 2765.0 L1100.0 2765.0 L1100.0 2950.0 L270.0 2950.0 L270.0 2647.0 C270.0 2647.0 274.0 2648.7 276.0 2645.0 C278.0 2641.3 278.8 2632.5 282.0 2625.0 C285.2 2617.5 289.5 2609.2 295.0 2600.0 C300.5 2590.8 306.7 2580.5 315.0 2570.0 C323.3 2559.5 345.0 2537.0 345.0 2537.0Z" fill="#6890c0"/>
<path d="M270.0 2640.0 C270.0 2640.0 269.3 2637.8 276.0 2642.0 C282.7 2646.2 296.8 2656.7 310.0 2665.0 C323.2 2673.3 339.8 2683.7 355.0 2692.0 C370.2 2700.3 385.2 2708.7 401.0 2715.0 C416.8 2721.3 434.3 2725.0 450.0 2730.0 C465.7 2735.0 481.7 2739.2 495.0 2745.0 C508.3 2750.8 520.0 2759.2 530.0 2765.0 C540.0 2770.8 545.0 2773.3 555.0 2780.0 C565.0 2786.7 579.2 2797.5 590.0 2805.0 C600.8 2812.5 608.3 2816.7 620.0 2825.0 C631.7 2833.3 646.7 2844.2 660.0 2855.0 C673.3 2865.8 687.5 2880.8 700.0 2890.0 C712.5 2899.2 722.5 2905.8 735.0 2910.0 C747.5 2914.2 760.8 2915.5 775.0 2915.0 C789.2 2914.5 804.2 2912.5 820.0 2907.0 C835.8 2901.5 853.3 2892.0 870.0 2882.0 C886.7 2872.0 903.3 2857.8 920.0 2847.0 C936.7 2836.2 953.3 2825.7 970.0 2817.0 C986.7 2808.3 1003.3 2802.0 1020.0 2795.0 C1036.7 2788.0 1058.0 2780.0 1070.0 2775.0 C1082.0 2770.0 1087.0 2767.0 1092.0 2765.0 C1097.0 2763.0 1100.0 2763.0 1100.0 2763.0 L1100.0 3300.0 L270.0 3300.0 L270.0 2640.0Z" fill="#3a6a9c"/>
<path d="M270.0 2700.0 C270.0 2700.0 345.0 2709.2 400.0 2735.0 C455.0 2760.8 538.3 2825.8 600.0 2855.0 C661.7 2884.2 725.0 2902.5 770.0 2910.0 C815.0 2917.5 838.3 2907.0 870.0 2900.0 C901.7 2893.0 940.8 2875.2 960.0 2868.0 C979.2 2860.8 978.3 2856.3 985.0 2857.0 C991.7 2857.7 997.5 2866.5 1000.0 2872.0 C1002.5 2877.5 1003.3 2884.2 1000.0 2890.0 C996.7 2895.8 989.2 2903.3 980.0 2907.0 C970.8 2910.7 959.2 2910.3 945.0 2912.0 C930.8 2913.7 911.7 2914.5 895.0 2917.0 C878.3 2919.5 859.2 2923.3 845.0 2927.0 C830.8 2930.7 822.5 2937.0 810.0 2939.0 C797.5 2941.0 785.0 2940.5 770.0 2939.0 C755.0 2937.5 736.7 2932.8 720.0 2930.0 C703.3 2927.2 688.3 2925.0 670.0 2922.0 C651.7 2919.0 628.3 2915.3 610.0 2912.0 C591.7 2908.7 576.7 2906.2 560.0 2902.0 C543.3 2897.8 526.7 2892.8 510.0 2887.0 C493.3 2881.2 478.2 2874.8 460.0 2867.0 C441.8 2859.2 417.7 2848.3 401.0 2840.0 C384.3 2831.7 372.7 2823.5 360.0 2817.0 C347.3 2810.5 339.0 2803.8 325.0 2801.0 C311.0 2798.2 285.2 2800.2 276.0 2800.0 C266.8 2799.8 270.0 2800.0 270.0 2800.0 L270.0 2700.0Z" fill="#84678f"/>
<path d="M270.0 2640.0 C270.0 2640.0 269.3 2637.8 276.0 2642.0 C282.7 2646.2 296.8 2656.7 310.0 2665.0 C323.2 2673.3 339.8 2683.7 355.0 2692.0 C370.2 2700.3 385.2 2708.7 401.0 2715.0 C416.8 2721.3 434.3 2725.0 450.0 2730.0 C465.7 2735.0 481.7 2739.2 495.0 2745.0 C508.3 2750.8 520.0 2759.2 530.0 2765.0 C540.0 2770.8 545.0 2773.3 555.0 2780.0 C565.0 2786.7 579.2 2797.5 590.0 2805.0 C600.8 2812.5 608.3 2816.7 620.0 2825.0 C631.7 2833.3 646.7 2844.2 660.0 2855.0 C673.3 2865.8 687.5 2880.8 700.0 2890.0 C712.5 2899.2 722.5 2905.8 735.0 2910.0 C747.5 2914.2 760.8 2915.5 775.0 2915.0 C789.2 2914.5 804.2 2912.5 820.0 2907.0 C835.8 2901.5 853.3 2892.0 870.0 2882.0 C886.7 2872.0 903.3 2857.8 920.0 2847.0 C936.7 2836.2 953.3 2825.7 970.0 2817.0 C986.7 2808.3 1003.3 2802.0 1020.0 2795.0 C1036.7 2788.0 1058.0 2780.0 1070.0 2775.0 C1082.0 2770.0 1087.0 2767.0 1092.0 2765.0 C1097.0 2763.0 1100.0 2763.0 1100.0 2763.0 L1100.0 2773.0 C1100.0 2773.0 1097.0 2771.2 1092.0 2774.0 C1087.0 2776.8 1082.0 2781.2 1070.0 2790.0 C1058.0 2798.8 1036.7 2815.3 1020.0 2827.0 C1003.3 2838.7 986.7 2848.7 970.0 2860.0 C953.3 2871.3 936.7 2885.8 920.0 2895.0 C903.3 2904.2 886.7 2910.0 870.0 2915.0 C853.3 2920.0 836.7 2923.2 820.0 2925.0 C803.3 2926.8 786.7 2927.3 770.0 2926.0 C753.3 2924.7 738.3 2922.5 720.0 2917.0 C701.7 2911.5 678.3 2899.7 660.0 2893.0 C641.7 2886.3 625.0 2883.3 610.0 2877.0 C595.0 2870.7 582.5 2862.8 570.0 2855.0 C557.5 2847.2 549.2 2838.3 535.0 2830.0 C520.8 2821.7 495.8 2810.8 485.0 2805.0 C474.2 2799.2 478.3 2800.5 470.0 2795.0 C461.7 2789.5 446.5 2779.2 435.0 2772.0 C423.5 2764.8 416.0 2758.2 401.0 2752.0 C386.0 2745.8 360.2 2739.3 345.0 2735.0 C329.8 2730.7 321.5 2728.2 310.0 2726.0 C298.5 2723.8 282.7 2722.8 276.0 2722.0 C269.3 2721.2 270.0 2721.0 270.0 2721.0 L270.0 2640.0Z" fill="#f57c8e"/>
<path d="M270.0 3002.0 C270.0 3002.0 269.3 3002.8 276.0 3000.0 C282.7 2997.2 296.0 2989.0 310.0 2985.0 C324.0 2981.0 340.8 2978.2 360.0 2976.0 C379.2 2973.8 401.7 2971.8 425.0 2972.0 C448.3 2972.2 475.8 2975.3 500.0 2977.0 C524.2 2978.7 547.5 2979.5 570.0 2982.0 C592.5 2984.5 614.2 2988.2 635.0 2992.0 C655.8 2995.8 672.5 2999.5 695.0 3005.0 C717.5 3010.5 745.0 3020.0 770.0 3025.0 C795.0 3030.0 820.0 3033.8 845.0 3035.0 C870.0 3036.2 895.0 3034.5 920.0 3032.0 C945.0 3029.5 974.2 3025.3 995.0 3020.0 C1015.8 3014.7 1028.8 3009.2 1045.0 3000.0 C1061.2 2990.8 1082.8 2971.3 1092.0 2965.0 C1101.2 2958.7 1100.0 2962.0 1100.0 2962.0 L1100.0 3500.0 L270.0 3500.0 L270.0 3002.0Z" fill="#2a62a2"/>
<path d="M270.0 3027.0 L372.0 3027.0 C372.0 3027.0 372.8 3035.3 375.0 3040.0 C377.2 3044.7 379.2 3048.3 385.0 3055.0 C390.8 3061.7 399.2 3072.5 410.0 3080.0 C420.8 3087.5 435.0 3093.3 450.0 3100.0 C465.0 3106.7 483.3 3112.5 500.0 3120.0 C516.7 3127.5 533.3 3136.7 550.0 3145.0 C566.7 3153.3 583.3 3162.2 600.0 3170.0 C616.7 3177.8 635.0 3184.5 650.0 3192.0 C665.0 3199.5 681.7 3203.7 690.0 3215.0 C698.3 3226.3 700.0 3260.0 700.0 3260.0 L270.0 3260.0 L270.0 3027.0Z" fill="#3c85b5"/>
<path d="M270.0 3120.0 C270.0 3120.0 269.3 3118.7 276.0 3122.0 C282.7 3125.3 296.8 3132.8 310.0 3140.0 C323.2 3147.2 339.8 3157.2 355.0 3165.0 C370.2 3172.8 383.5 3179.5 401.0 3187.0 C418.5 3194.5 441.8 3203.7 460.0 3210.0 C478.2 3216.3 494.2 3220.5 510.0 3225.0 C525.8 3229.5 542.5 3232.8 555.0 3237.0 C567.5 3241.2 575.8 3244.5 585.0 3250.0 C594.2 3255.5 603.3 3261.7 610.0 3270.0 C616.7 3278.3 615.0 3290.0 625.0 3300.0 C635.0 3310.0 654.2 3321.7 670.0 3330.0 C685.8 3338.3 703.3 3343.3 720.0 3350.0 C736.7 3356.7 753.3 3363.8 770.0 3370.0 C786.7 3376.2 803.3 3381.7 820.0 3387.0 C836.7 3392.3 853.3 3397.3 870.0 3402.0 C886.7 3406.7 903.3 3410.8 920.0 3415.0 C936.7 3419.2 953.3 3422.5 970.0 3427.0 C986.7 3431.5 1005.8 3437.8 1020.0 3442.0 C1034.2 3446.2 1043.0 3448.2 1055.0 3452.0 C1067.0 3455.8 1084.5 3462.3 1092.0 3465.0 C1099.5 3467.7 1100.0 3468.0 1100.0 3468.0 L1100.0 3800.0 L270.0 3800.0 L270.0 3120.0Z" fill="#8edde0"/>
<path d="M270.0 3268.0 C270.0 3268.0 265.2 3263.8 276.0 3270.0 C286.8 3276.2 314.3 3294.2 335.0 3305.0 C355.7 3315.8 381.7 3326.7 400.0 3335.0 C418.3 3343.3 425.0 3345.8 445.0 3355.0 C465.0 3364.2 494.2 3377.5 520.0 3390.0 C545.8 3402.5 570.0 3415.0 600.0 3430.0 C630.0 3445.0 666.7 3461.7 700.0 3480.0 C733.3 3498.3 800.0 3540.0 800.0 3540.0 L800.0 3800.0 L270.0 3800.0 L270.0 3268.0Z" fill="#83c2ac"/>
<path d="M270.0 3406.0 C270.0 3406.0 265.2 3406.8 276.0 3405.0 C286.8 3403.2 314.3 3400.8 335.0 3395.0 C355.7 3389.2 380.8 3376.3 400.0 3370.0 C419.2 3363.7 435.8 3357.0 450.0 3357.0 C464.2 3357.0 466.7 3361.2 485.0 3370.0 C503.3 3378.8 535.0 3397.5 560.0 3410.0 C585.0 3422.5 614.2 3435.8 635.0 3445.0 C655.8 3454.2 666.7 3457.5 685.0 3465.0 C703.3 3472.5 725.8 3480.8 745.0 3490.0 C764.2 3499.2 800.0 3520.0 800.0 3520.0 L800.0 3800.0 L270.0 3800.0 L270.0 3406.0Z" fill="#8fd2b6"/>
<path d="M270.0 3429.0 C270.0 3429.0 265.2 3425.7 276.0 3430.0 C286.8 3434.3 314.3 3447.5 335.0 3455.0 C355.7 3462.5 379.2 3470.8 400.0 3475.0 C420.8 3479.2 441.7 3479.7 460.0 3480.0 C478.3 3480.3 493.3 3477.0 510.0 3477.0 C526.7 3477.0 541.7 3476.2 560.0 3480.0 C578.3 3483.8 600.0 3491.7 620.0 3500.0 C640.0 3508.3 663.3 3520.0 680.0 3530.0 C696.7 3540.0 720.0 3560.0 720.0 3560.0 L720.0 3800.0 L270.0 3800.0 L270.0 3429.0Z" fill="#97dbba"/>
<path d="M270.0 3547.0 C270.0 3547.0 265.2 3547.8 276.0 3547.0 C286.8 3546.2 314.3 3542.0 335.0 3542.0 C355.7 3542.0 379.2 3545.7 400.0 3547.0 C420.8 3548.3 437.5 3552.0 460.0 3550.0 C482.5 3548.0 514.2 3540.0 535.0 3535.0 C555.8 3530.0 570.8 3524.2 585.0 3520.0 C599.2 3515.8 607.5 3510.0 620.0 3510.0 C632.5 3510.0 646.7 3514.2 660.0 3520.0 C673.3 3525.8 700.0 3545.0 700.0 3545.0 L700.0 3800.0 L270.0 3800.0 L270.0 3547.0Z" fill="#a3e2be"/>
<path d="M270.0 3565.0 C270.0 3565.0 265.2 3563.8 276.0 3565.0 C286.8 3566.2 314.3 3571.2 335.0 3572.0 C355.7 3572.8 379.2 3569.2 400.0 3570.0 C420.8 3570.8 437.5 3574.2 460.0 3577.0 C482.5 3579.8 510.0 3585.7 535.0 3587.0 C560.0 3588.3 589.2 3587.8 610.0 3585.0 C630.8 3582.2 645.8 3574.2 660.0 3570.0 C674.2 3565.8 685.0 3558.3 695.0 3560.0 C705.0 3561.7 720.0 3580.0 720.0 3580.0 L720.0 3800.0 L270.0 3800.0 L270.0 3565.0Z" fill="#b2e2bc"/>
<path d="M270.0 3592.0 C270.0 3592.0 265.2 3594.0 276.0 3592.0 C286.8 3590.0 316.8 3580.0 335.0 3580.0 C353.2 3580.0 368.3 3587.5 385.0 3592.0 C401.7 3596.5 415.8 3603.7 435.0 3607.0 C454.2 3610.3 479.2 3611.5 500.0 3612.0 C520.8 3612.5 537.5 3611.7 560.0 3610.0 C582.5 3608.3 615.8 3603.7 635.0 3602.0 C654.2 3600.3 662.5 3599.8 675.0 3600.0 C687.5 3600.2 698.0 3603.0 710.0 3603.0 C722.0 3603.0 736.7 3592.7 747.0 3600.0 C757.3 3607.3 755.5 3635.0 772.0 3647.0 C788.5 3659.0 824.3 3664.7 846.0 3672.0 C867.7 3679.3 885.5 3682.7 902.0 3691.0 C918.5 3699.3 930.5 3711.7 945.0 3722.0 C959.5 3732.3 973.5 3743.8 989.0 3753.0 C1004.5 3762.2 1022.0 3767.8 1038.0 3777.0 C1054.0 3786.2 1074.7 3801.5 1085.0 3808.0 C1095.3 3814.5 1100.0 3816.0 1100.0 3816.0 L1100.0 4400.0 L270.0 4400.0 L270.0 3592.0Z" fill="#829c88"/>
<path d="M270.0 3592.0 C270.0 3592.0 265.2 3594.0 276.0 3592.0 C286.8 3590.0 316.8 3580.0 335.0 3580.0 C353.2 3580.0 368.3 3587.5 385.0 3592.0 C401.7 3596.5 415.8 3603.7 435.0 3607.0 C454.2 3610.3 479.2 3611.5 500.0 3612.0 C520.8 3612.5 537.5 3611.7 560.0 3610.0 C582.5 3608.3 615.8 3603.7 635.0 3602.0 C654.2 3600.3 656.3 3600.0 675.0 3600.0 C693.7 3600.0 734.2 3593.7 747.0 3602.0 C759.8 3610.3 757.2 3634.2 752.0 3650.0 C746.8 3665.8 729.2 3685.0 716.0 3697.0 C702.8 3709.0 688.3 3713.8 673.0 3722.0 C657.7 3730.2 691.2 3741.3 624.0 3746.0 C556.8 3750.7 270.0 3750.0 270.0 3750.0 L270.0 3592.0Z" fill="#8cb89e"/>
<path d="M555.0 3240.0 C565.8 3233.3 574.2 3225.8 585.0 3220.0 C595.8 3214.2 605.0 3208.3 620.0 3205.0 C635.0 3201.7 654.2 3201.3 675.0 3200.0 C695.8 3198.7 720.8 3198.3 745.0 3197.0 C769.2 3195.7 795.0 3194.0 820.0 3192.0 C845.0 3190.0 870.0 3187.8 895.0 3185.0 C920.0 3182.2 945.0 3178.0 970.0 3175.0 C995.0 3172.0 1024.7 3169.2 1045.0 3167.0 C1065.3 3164.8 1082.8 3163.2 1092.0 3162.0 C1101.2 3160.8 1100.0 3160.0 1100.0 3160.0 L1100.0 3816.0 C1100.0 3816.0 1095.3 3814.5 1085.0 3808.0 C1074.7 3801.5 1054.0 3786.2 1038.0 3777.0 C1022.0 3767.8 1004.5 3762.2 989.0 3753.0 C973.5 3743.8 959.5 3732.3 945.0 3722.0 C930.5 3711.7 918.5 3699.3 902.0 3691.0 C885.5 3682.7 867.7 3679.3 846.0 3672.0 C824.3 3664.7 788.5 3659.0 772.0 3647.0 C755.5 3635.0 757.3 3607.3 747.0 3600.0 C736.7 3592.7 722.0 3603.0 710.0 3603.0 C698.0 3603.0 684.2 3606.3 675.0 3600.0 C665.8 3593.7 662.5 3575.8 655.0 3565.0 C647.5 3554.2 639.2 3545.0 630.0 3535.0 C620.8 3525.0 611.7 3515.0 600.0 3505.0 C588.3 3495.0 573.3 3485.8 560.0 3475.0 C546.7 3464.2 532.5 3452.5 520.0 3440.0 C507.5 3427.5 495.0 3411.7 485.0 3400.0 C475.0 3388.3 466.7 3379.2 460.0 3370.0 C453.3 3360.8 448.0 3353.3 445.0 3345.0 C442.0 3336.7 439.5 3327.5 442.0 3320.0 C444.5 3312.5 453.7 3305.8 460.0 3300.0 C466.3 3294.2 470.0 3291.7 480.0 3285.0 C490.0 3278.3 507.5 3267.5 520.0 3260.0 C532.5 3252.5 544.2 3246.7 555.0 3240.0Z" fill="#4f7a94"/>
<path d="M846.0 3672.0 C846.0 3672.0 907.3 3676.7 933.0 3676.0 C958.7 3675.3 972.2 3670.7 1000.0 3668.0 C1027.8 3665.3 1100.0 3660.0 1100.0 3660.0 L1100.0 3900.0 L846.0 3900.0 L846.0 3672.0Z" fill="#48759a" clip-path="url(#blob)"/>
<path d="M540.0 3150.0 L1100.0 3150.0 L1100.0 3470.0 C1100.0 3470.0 1068.3 3456.7 1055.0 3452.0 C1041.7 3447.3 1034.2 3446.2 1020.0 3442.0 C1005.8 3437.8 986.7 3431.5 970.0 3427.0 C953.3 3422.5 936.7 3419.2 920.0 3415.0 C903.3 3410.8 886.7 3406.7 870.0 3402.0 C853.3 3397.3 836.7 3392.3 820.0 3387.0 C803.3 3381.7 786.7 3376.2 770.0 3370.0 C753.3 3363.8 736.7 3356.7 720.0 3350.0 C703.3 3343.3 685.8 3338.3 670.0 3330.0 C654.2 3321.7 635.0 3310.0 625.0 3300.0 C615.0 3290.0 616.7 3278.3 610.0 3270.0 C603.3 3261.7 594.2 3255.0 585.0 3250.0 C575.8 3245.0 562.5 3256.7 555.0 3240.0 C547.5 3223.3 540.0 3150.0 540.0 3150.0Z" fill="#4a7694" clip-path="url(#blob)"/>
<path d="M555.0 3240.0 C580.8 3228.3 575.8 3245.0 585.0 3250.0 C594.2 3255.0 603.3 3261.7 610.0 3270.0 C616.7 3278.3 615.0 3290.0 625.0 3300.0 C635.0 3310.0 654.2 3321.7 670.0 3330.0 C685.8 3338.3 703.3 3343.3 720.0 3350.0 C736.7 3356.7 753.3 3363.8 770.0 3370.0 C786.7 3376.2 803.3 3381.7 820.0 3387.0 C836.7 3392.3 853.3 3397.3 870.0 3402.0 C886.7 3406.7 903.3 3410.8 920.0 3415.0 C936.7 3419.2 953.3 3422.8 970.0 3427.0 C986.7 3431.2 1008.7 3435.3 1020.0 3440.0 C1031.3 3444.7 1033.0 3445.2 1038.0 3455.0 C1043.0 3464.8 1049.0 3484.5 1050.0 3499.0 C1051.0 3513.5 1050.2 3526.5 1044.0 3542.0 C1037.8 3557.5 1027.3 3580.2 1013.0 3592.0 C998.7 3603.8 977.5 3610.0 958.0 3613.0 C938.5 3616.0 912.5 3613.5 896.0 3610.0 C879.5 3606.5 869.3 3600.2 859.0 3592.0 C848.7 3583.8 842.3 3572.3 834.0 3561.0 C825.7 3549.7 820.3 3534.3 809.0 3524.0 C797.7 3513.7 777.5 3508.0 766.0 3499.0 C754.5 3490.0 751.0 3473.2 740.0 3470.0 C729.0 3466.8 716.7 3471.7 700.0 3480.0 C683.3 3488.3 663.3 3520.8 640.0 3520.0 C616.7 3519.2 586.7 3495.0 560.0 3475.0 C533.3 3455.0 501.7 3425.8 480.0 3400.0 C458.3 3374.2 417.5 3346.7 430.0 3320.0 C442.5 3293.3 529.2 3251.7 555.0 3240.0Z" fill="#6a9da3" clip-path="url(#blob)"/>
<path d="M455.0 3355.0 C466.7 3353.3 490.8 3345.8 510.0 3340.0 C529.2 3334.2 551.7 3323.8 570.0 3320.0 C588.3 3316.2 605.0 3315.3 620.0 3317.0 C635.0 3318.7 648.3 3322.8 660.0 3330.0 C671.7 3337.2 682.7 3348.3 690.0 3360.0 C697.3 3371.7 697.5 3387.2 704.0 3400.0 C710.5 3412.8 719.7 3423.7 729.0 3437.0 C738.3 3450.3 753.8 3465.5 760.0 3480.0 C766.2 3494.5 766.5 3509.5 766.0 3524.0 C765.5 3538.5 760.2 3553.7 757.0 3567.0 C753.8 3580.3 756.5 3591.8 747.0 3604.0 C737.5 3616.2 724.5 3634.0 700.0 3640.0 C675.5 3646.0 626.7 3667.5 600.0 3640.0 C573.3 3612.5 556.7 3508.3 540.0 3475.0 C523.3 3441.7 512.5 3452.5 500.0 3440.0 C487.5 3427.5 475.0 3411.7 465.0 3400.0 C455.0 3388.3 444.2 3378.3 440.0 3370.0 C435.8 3361.7 437.5 3352.5 440.0 3350.0 C442.5 3347.5 443.3 3356.7 455.0 3355.0Z" fill="#7fbeae" clip-path="url(#blob)"/>
<path d="M485.0 3372.0 C491.7 3367.0 535.0 3397.8 560.0 3410.0 C585.0 3422.2 614.2 3435.8 635.0 3445.0 C655.8 3454.2 666.7 3457.5 685.0 3465.0 C703.3 3472.5 731.5 3480.2 745.0 3490.0 C758.5 3499.8 764.0 3511.2 766.0 3524.0 C768.0 3536.8 760.2 3553.7 757.0 3567.0 C753.8 3580.3 766.5 3591.8 747.0 3604.0 C727.5 3616.2 671.2 3661.5 640.0 3640.0 C608.8 3618.5 580.0 3508.3 560.0 3475.0 C540.0 3441.7 532.5 3457.2 520.0 3440.0 C507.5 3422.8 478.3 3377.0 485.0 3372.0Z" fill="#8cc8b0" clip-path="url(#blob)"/>
<path d="M560.0 3478.0 C563.3 3469.2 603.3 3499.7 620.0 3507.0 C636.7 3514.3 648.7 3513.2 660.0 3522.0 C671.3 3530.8 681.3 3546.0 688.0 3560.0 C694.7 3574.0 708.0 3592.7 700.0 3606.0 C692.0 3619.3 656.7 3647.7 640.0 3640.0 C623.3 3632.3 613.3 3587.0 600.0 3560.0 C586.7 3533.0 556.7 3486.8 560.0 3478.0Z" fill="#a0dcb8" clip-path="url(#blob)"/>
<path d="M622.0 3508.0 C617.0 3501.3 647.8 3521.3 660.0 3520.0 C672.2 3518.7 680.8 3509.2 695.0 3500.0 C709.2 3490.8 731.7 3465.0 745.0 3465.0 C758.3 3465.0 771.5 3490.2 775.0 3500.0 C778.5 3509.8 769.0 3512.8 766.0 3524.0 C763.0 3535.2 760.2 3553.7 757.0 3567.0 C753.8 3580.3 756.2 3597.5 747.0 3604.0 C737.8 3610.5 711.5 3613.3 702.0 3606.0 C692.5 3598.7 703.3 3576.3 690.0 3560.0 C676.7 3543.7 627.0 3514.7 622.0 3508.0Z" fill="#8cb89e" clip-path="url(#blob)"/>
<path d="M600.0 3700.0 L648.7 3718.1 L648.7 3746.8 L685.6 3746.8 L685.6 3775.5 L722.5 3775.5 L722.5 3804.2 L759.4 3804.2 L759.4 3832.9 L796.3 3832.9 L796.3 3861.6 L833.2 3861.6 L833.2 3890.3 L870.1 3890.3 L870.1 3919.0 L1100.0 3919.0 L1100.0 3985.0 L895.0 3985.0 C895.0 3985.0 903.3 4001.3 910.0 4008.0 C916.7 4014.7 922.5 4018.8 935.0 4025.0 C947.5 4031.2 968.3 4038.8 985.0 4045.0 C1001.7 4051.2 1018.8 4057.5 1035.0 4062.0 C1051.2 4066.5 1071.2 4070.2 1082.0 4072.0 C1092.8 4073.8 1100.0 4073.0 1100.0 4073.0 L1100.0 4400.0 L600.0 4400.0 L600.0 3700.0Z" fill="#a0ac78"/>
<path d="M600.0 3844.0 C600.0 3844.0 611.8 3851.0 622.0 3857.0 C632.2 3863.0 647.5 3872.3 661.0 3880.0 C674.5 3887.7 689.5 3896.5 703.0 3903.0 C716.5 3909.5 730.0 3913.5 742.0 3919.0 C754.0 3924.5 763.7 3929.8 775.0 3936.0 C786.3 3942.2 795.8 3946.7 810.0 3956.0 C824.2 3965.3 843.3 3981.2 860.0 3992.0 C876.7 4002.8 893.3 4012.7 910.0 4021.0 C926.7 4029.3 943.3 4035.5 960.0 4042.0 C976.7 4048.5 993.3 4055.0 1010.0 4060.0 C1026.7 4065.0 1046.3 4069.2 1060.0 4072.0 C1073.7 4074.8 1085.3 4076.0 1092.0 4077.0 C1098.7 4078.0 1100.0 4078.0 1100.0 4078.0 L1100.0 4400.0 L600.0 4400.0 L600.0 3844.0Z" fill="#dac25f"/>
<path d="M600.0 3890.0 C600.0 3890.0 615.2 3910.7 622.0 3920.0 C628.8 3929.3 634.7 3937.3 641.0 3946.0 C647.3 3954.7 653.5 3963.0 660.0 3972.0 C666.5 3981.0 671.7 3988.7 680.0 4000.0 C688.3 4011.3 700.0 4026.7 710.0 4040.0 C720.0 4053.3 729.2 4067.5 740.0 4080.0 C750.8 4092.5 765.5 4107.2 775.0 4115.0 C784.5 4122.8 787.0 4122.5 797.0 4127.0 C807.0 4131.5 820.3 4137.3 835.0 4142.0 C849.7 4146.7 869.2 4150.8 885.0 4155.0 C900.8 4159.2 915.8 4160.8 930.0 4167.0 C944.2 4173.2 956.7 4183.2 970.0 4192.0 C983.3 4200.8 996.7 4211.2 1010.0 4220.0 C1023.3 4228.8 1038.0 4237.5 1050.0 4245.0 C1062.0 4252.5 1073.7 4260.8 1082.0 4265.0 C1090.3 4269.2 1100.0 4270.0 1100.0 4270.0 L1100.0 4400.0 L600.0 4400.0 L600.0 3890.0Z" fill="#ffa878"/>
<path d="M600.0 4028.0 C600.0 4028.0 613.7 4030.0 622.0 4032.0 C630.3 4034.0 639.5 4034.5 650.0 4040.0 C660.5 4045.5 673.3 4055.8 685.0 4065.0 C696.7 4074.2 708.3 4084.2 720.0 4095.0 C731.7 4105.8 744.2 4119.2 755.0 4130.0 C765.8 4140.8 775.8 4151.7 785.0 4160.0 C794.2 4168.3 797.5 4172.5 810.0 4180.0 C822.5 4187.5 843.3 4198.3 860.0 4205.0 C876.7 4211.7 893.3 4215.0 910.0 4220.0 C926.7 4225.0 945.0 4230.0 960.0 4235.0 C975.0 4240.0 987.5 4245.0 1000.0 4250.0 C1012.5 4255.0 1023.3 4260.8 1035.0 4265.0 C1046.7 4269.2 1060.5 4272.5 1070.0 4275.0 C1079.5 4277.5 1087.0 4279.0 1092.0 4280.0 C1097.0 4281.0 1100.0 4281.0 1100.0 4281.0 L1100.0 4400.0 L600.0 4400.0 L600.0 4028.0Z" fill="#c87e22"/>
<rect x="635.2" y="3726.1" width="7" height="21.0" fill="#fff" fill-opacity="0.38"/>
<rect x="672.1" y="3754.8" width="7" height="21.0" fill="#fff" fill-opacity="0.38"/>
<rect x="709.0" y="3783.5" width="7" height="21.0" fill="#fff" fill-opacity="0.38"/>
<rect x="745.9" y="3812.2" width="7" height="21.0" fill="#fff" fill-opacity="0.38"/>
<rect x="782.8" y="3840.9" width="7" height="21.0" fill="#fff" fill-opacity="0.38"/>
<rect x="819.7" y="3869.6" width="7" height="21.0" fill="#fff" fill-opacity="0.38"/>
<rect x="856.6" y="3898.3" width="7" height="21.0" fill="#fff" fill-opacity="0.38"/>
</g>
<g fill="#5a5b63" clip-path="url(#pc)" style="mix-blend-mode:multiply">
<rect x="270.0" y="587.5" width="342.0" height="9.5"/>
<rect x="270.0" y="598.5" width="27.5" height="34.5" rx="3" fill="none" stroke="#5a5b63" stroke-width="2.4"/>
<rect x="300.5" y="598.5" width="45.0" height="34.5" rx="3" fill="none" stroke="#5a5b63" stroke-width="2.4"/>
<rect x="348.0" y="598.5" width="48.5" height="34.5" rx="3" fill="none" stroke="#5a5b63" stroke-width="2.4"/>
<rect x="402.0" y="598.5" width="37.5" height="34.5" rx="3" fill="none" stroke="#5a5b63" stroke-width="2.4"/>
<rect x="442.5" y="598.5" width="44.0" height="34.5" rx="3" fill="none" stroke="#5a5b63" stroke-width="2.4"/>
<rect x="490.0" y="598.5" width="81.0" height="34.5" rx="3" fill="none" stroke="#5a5b63" stroke-width="2.4"/>
<rect x="270.0" y="636.5" width="128.5" height="11.5" rx="3" fill="none" stroke="#5a5b63" stroke-width="2.2"/>
<rect x="403.0" y="636.5" width="168.0" height="11.5" rx="3" fill="none" stroke="#5a5b63" stroke-width="2.2"/>
<rect x="486.8" y="596.5" width="2.6" height="44.0"/>
<rect x="475.5" y="639.5" width="25.0" height="3.5"/>
<rect x="270.0" y="650.0" width="304.0" height="16.5"/>
<rect x="280.5" y="653.0" width="19.0" height="3.6" rx="1.8" fill="#fff"/>
<rect x="302.5" y="653.0" width="21.0" height="3.6" rx="1.8" fill="#fff"/>
<rect x="326.5" y="653.0" width="36.0" height="3.6" rx="1.8" fill="#fff"/>
<rect x="365.5" y="653.0" width="15.0" height="3.6" rx="1.8" fill="#fff"/>
<rect x="383.5" y="653.0" width="11.0" height="3.6" rx="1.8" fill="#fff"/>
<rect x="397.5" y="653.0" width="5.0" height="3.6" rx="1.8" fill="#fff"/>
<rect x="405.5" y="653.0" width="18.0" height="3.6" rx="1.8" fill="#fff"/>
<rect x="426.5" y="653.0" width="13.0" height="3.6" rx="1.8" fill="#fff"/>
<rect x="442.5" y="653.0" width="35.0" height="3.6" rx="1.8" fill="#fff"/>
<rect x="480.5" y="653.0" width="15.0" height="3.6" rx="1.8" fill="#fff"/>
<rect x="498.5" y="653.0" width="38.0" height="3.6" rx="1.8" fill="#fff"/>
<rect x="539.5" y="653.0" width="19.0" height="3.6" rx="1.8" fill="#fff"/>
<rect x="561.5" y="653.0" width="9.0" height="3.6" rx="1.8" fill="#fff"/>
<rect x="573.0" y="556.5" width="2.5" height="109.0"/>
<rect x="606.5" y="588.5" width="5.0" height="36.5"/>
<rect x="606.5" y="617.0" width="42.1" height="8.0"/>
<rect x="643.1" y="617.0" width="5.0" height="36.5"/>
<rect x="643.1" y="645.5" width="42.1" height="8.0"/>
<rect x="679.7" y="645.5" width="5.0" height="36.5"/>
<rect x="679.7" y="674.0" width="42.1" height="8.0"/>
<rect x="716.3" y="674.0" width="5.0" height="36.5"/>
<rect x="716.3" y="702.5" width="42.1" height="8.0"/>
<rect x="752.9" y="702.5" width="5.0" height="36.5"/>
<rect x="752.9" y="731.0" width="42.1" height="8.0"/>
<rect x="789.5" y="731.0" width="5.0" height="36.5"/>
<rect x="789.5" y="759.5" width="42.1" height="8.0"/>
<rect x="826.1" y="759.5" width="5.0" height="36.5"/>
<rect x="826.1" y="788.0" width="42.1" height="8.0"/>
<rect x="862.7" y="788.0" width="5.0" height="36.5"/>
<rect x="862.7" y="816.5" width="221.3" height="10.0"/>
<rect x="899.0" y="852.5" width="183.0" height="3.0"/>
<line x1="906.5" y1="826.5" x2="899.0" y2="854.5" stroke="#5a5b63" stroke-width="2.4"/>
<rect x="1078.5" y="816.5" width="5.5" height="41.0"/>
<line x1="574.0" y1="556.5" x2="906.0" y2="816.5" stroke="#5a5b63" stroke-width="2.3"/>
<line x1="574.0" y1="606.5" x2="897.0" y2="854.5" stroke="#5a5b63" stroke-width="2.3"/>
<line x1="610.0" y1="589.5" x2="1084.0" y2="589.5" stroke="#5a5b63" stroke-width="2.3"/>
<line x1="638.0" y1="455.0" x2="1084.0" y2="455.0" stroke="#5a5b63" stroke-width="2.3"/>
<line x1="872.0" y1="638.5" x2="1084.0" y2="638.5" stroke="#5a5b63" stroke-width="2.3"/>
<line x1="886.0" y1="788.5" x2="1084.0" y2="788.5" stroke="#5a5b63" stroke-width="2.3"/>
<rect x="566.5" y="456.0" width="43.5" height="6.5" rx="3.2" fill="none" stroke="#5a5b63" stroke-width="2"/>
<polygon points="609.0,457.5 638.0,445.5 638.0,469.5" stroke="#5a5b63" stroke-width="3" stroke-linejoin="round"/>
<polygon points="847.0,638.5 871.5,626.5 871.5,650.5" stroke="#5a5b63" stroke-width="3" stroke-linejoin="round"/>
<rect x="902.0" y="683.5" width="46.0" height="6.5" rx="3.2" fill="none" stroke="#5a5b63" stroke-width="2"/>
<polygon points="950.5,693.5 976.0,681.5 976.0,705.5" stroke="#5a5b63" stroke-width="3" stroke-linejoin="round"/>
<line x1="976.0" y1="694.0" x2="1084.0" y2="711.0" stroke="#5a5b63" stroke-width="2.3" stroke-dasharray="11 3.5"/>
<polygon points="864.0,790.0 885.5,778.0 885.5,802.0" stroke="#5a5b63" stroke-width="3" stroke-linejoin="round"/>
<line x1="608.4" y1="461.6" x2="900.9" y2="688.6" stroke="#5a5b63" stroke-width="1.5"/>
<line x1="611.6" y1="457.4" x2="904.1" y2="684.4" stroke="#5a5b63" stroke-width="1.5"/>
<circle cx="938.0" cy="589.5" r="2.4"/>
<circle cx="938.0" cy="455.0" r="2.4"/>
<circle cx="938.0" cy="638.5" r="2.4"/>
<circle cx="938.0" cy="788.5" r="2.4"/>
<circle cx="938.0" cy="826.5" r="2.4"/>
<circle cx="938.0" cy="854.5" r="2.4"/>
<rect x="270.0" y="1074.0" width="342.0" height="9.5"/>
<rect x="270.0" y="1085.0" width="27.5" height="34.5" rx="3" fill="none" stroke="#5a5b63" stroke-width="2.4"/>
<rect x="300.5" y="1085.0" width="45.0" height="34.5" rx="3" fill="none" stroke="#5a5b63" stroke-width="2.4"/>
<rect x="348.0" y="1085.0" width="48.5" height="34.5" rx="3" fill="none" stroke="#5a5b63" stroke-width="2.4"/>
<rect x="402.0" y="1085.0" width="37.5" height="34.5" rx="3" fill="none" stroke="#5a5b63" stroke-width="2.4"/>
<rect x="442.5" y="1085.0" width="44.0" height="34.5" rx="3" fill="none" stroke="#5a5b63" stroke-width="2.4"/>
<rect x="490.0" y="1085.0" width="81.0" height="34.5" rx="3" fill="none" stroke="#5a5b63" stroke-width="2.4"/>
<rect x="270.0" y="1123.0" width="128.5" height="11.5" rx="3" fill="none" stroke="#5a5b63" stroke-width="2.2"/>
<rect x="403.0" y="1123.0" width="168.0" height="11.5" rx="3" fill="none" stroke="#5a5b63" stroke-width="2.2"/>
<rect x="486.8" y="1083.0" width="2.6" height="44.0"/>
<rect x="475.5" y="1126.0" width="25.0" height="3.5"/>
<rect x="270.0" y="1136.5" width="304.0" height="16.5"/>
<rect x="280.5" y="1139.5" width="19.0" height="3.6" rx="1.8" fill="#fff"/>
<rect x="302.5" y="1139.5" width="21.0" height="3.6" rx="1.8" fill="#fff"/>
<rect x="326.5" y="1139.5" width="36.0" height="3.6" rx="1.8" fill="#fff"/>
<rect x="365.5" y="1139.5" width="15.0" height="3.6" rx="1.8" fill="#fff"/>
<rect x="383.5" y="1139.5" width="11.0" height="3.6" rx="1.8" fill="#fff"/>
<rect x="397.5" y="1139.5" width="5.0" height="3.6" rx="1.8" fill="#fff"/>
<rect x="405.5" y="1139.5" width="18.0" height="3.6" rx="1.8" fill="#fff"/>
<rect x="426.5" y="1139.5" width="13.0" height="3.6" rx="1.8" fill="#fff"/>
<rect x="442.5" y="1139.5" width="35.0" height="3.6" rx="1.8" fill="#fff"/>
<rect x="480.5" y="1139.5" width="15.0" height="3.6" rx="1.8" fill="#fff"/>
<rect x="498.5" y="1139.5" width="38.0" height="3.6" rx="1.8" fill="#fff"/>
<rect x="539.5" y="1139.5" width="19.0" height="3.6" rx="1.8" fill="#fff"/>
<rect x="561.5" y="1139.5" width="9.0" height="3.6" rx="1.8" fill="#fff"/>
<rect x="573.0" y="1043.0" width="2.5" height="109.0"/>
<rect x="606.5" y="1075.0" width="5.0" height="36.5"/>
<rect x="606.5" y="1103.5" width="42.1" height="8.0"/>
<rect x="643.1" y="1103.5" width="5.0" height="36.5"/>
<rect x="643.1" y="1132.0" width="42.1" height="8.0"/>
<rect x="679.7" y="1132.0" width="5.0" height="36.5"/>
<rect x="679.7" y="1160.5" width="42.1" height="8.0"/>
<rect x="716.3" y="1160.5" width="5.0" height="36.5"/>
<rect x="716.3" y="1189.0" width="42.1" height="8.0"/>
<rect x="752.9" y="1189.0" width="5.0" height="36.5"/>
<rect x="752.9" y="1217.5" width="42.1" height="8.0"/>
<rect x="789.5" y="1217.5" width="5.0" height="36.5"/>
<rect x="789.5" y="1246.0" width="42.1" height="8.0"/>
<rect x="826.1" y="1246.0" width="5.0" height="36.5"/>
<rect x="826.1" y="1274.5" width="42.1" height="8.0"/>
<rect x="862.7" y="1274.5" width="5.0" height="36.5"/>
<rect x="862.7" y="1303.0" width="221.3" height="10.0"/>
<rect x="899.0" y="1339.0" width="183.0" height="3.0"/>
<line x1="906.5" y1="1313.0" x2="899.0" y2="1341.0" stroke="#5a5b63" stroke-width="2.4"/>
<rect x="1078.5" y="1303.0" width="5.5" height="41.0"/>
<line x1="574.0" y1="1043.0" x2="906.0" y2="1303.0" stroke="#5a5b63" stroke-width="2.3"/>
<line x1="574.0" y1="1093.0" x2="897.0" y2="1341.0" stroke="#5a5b63" stroke-width="2.3"/>
<line x1="610.0" y1="1076.0" x2="1084.0" y2="1076.0" stroke="#5a5b63" stroke-width="2.3"/>
<line x1="638.0" y1="941.5" x2="1084.0" y2="941.5" stroke="#5a5b63" stroke-width="2.3"/>
<line x1="872.0" y1="1125.0" x2="1084.0" y2="1125.0" stroke="#5a5b63" stroke-width="2.3"/>
<line x1="886.0" y1="1275.0" x2="1084.0" y2="1275.0" stroke="#5a5b63" stroke-width="2.3"/>
<rect x="566.5" y="942.5" width="43.5" height="6.5" rx="3.2" fill="none" stroke="#5a5b63" stroke-width="2"/>
<polygon points="609.0,944.0 638.0,932.0 638.0,956.0" stroke="#5a5b63" stroke-width="3" stroke-linejoin="round"/>
<polygon points="847.0,1125.0 871.5,1113.0 871.5,1137.0" stroke="#5a5b63" stroke-width="3" stroke-linejoin="round"/>
<rect x="902.0" y="1170.0" width="46.0" height="6.5" rx="3.2" fill="none" stroke="#5a5b63" stroke-width="2"/>
<polygon points="950.5,1180.0 976.0,1168.0 976.0,1192.0" stroke="#5a5b63" stroke-width="3" stroke-linejoin="round"/>
<line x1="976.0" y1="1180.5" x2="1084.0" y2="1197.5" stroke="#5a5b63" stroke-width="2.3" stroke-dasharray="11 3.5"/>
<polygon points="864.0,1276.5 885.5,1264.5 885.5,1288.5" stroke="#5a5b63" stroke-width="3" stroke-linejoin="round"/>
<line x1="608.4" y1="948.1" x2="900.9" y2="1175.1" stroke="#5a5b63" stroke-width="1.5"/>
<line x1="611.6" y1="943.9" x2="904.1" y2="1170.9" stroke="#5a5b63" stroke-width="1.5"/>
<circle cx="938.0" cy="1076.0" r="2.4"/>
<circle cx="938.0" cy="941.5" r="2.4"/>
<circle cx="938.0" cy="1125.0" r="2.4"/>
<circle cx="938.0" cy="1275.0" r="2.4"/>
<circle cx="938.0" cy="1313.0" r="2.4"/>
<circle cx="938.0" cy="1341.0" r="2.4"/>
<rect x="270.0" y="1562.0" width="342.0" height="9.5"/>
<rect x="270.0" y="1573.0" width="27.5" height="34.5" rx="3" fill="none" stroke="#5a5b63" stroke-width="2.4"/>
<rect x="300.5" y="1573.0" width="45.0" height="34.5" rx="3" fill="none" stroke="#5a5b63" stroke-width="2.4"/>
<rect x="348.0" y="1573.0" width="48.5" height="34.5" rx="3" fill="none" stroke="#5a5b63" stroke-width="2.4"/>
<rect x="402.0" y="1573.0" width="37.5" height="34.5" rx="3" fill="none" stroke="#5a5b63" stroke-width="2.4"/>
<rect x="442.5" y="1573.0" width="44.0" height="34.5" rx="3" fill="none" stroke="#5a5b63" stroke-width="2.4"/>
<rect x="490.0" y="1573.0" width="81.0" height="34.5" rx="3" fill="none" stroke="#5a5b63" stroke-width="2.4"/>
<rect x="270.0" y="1611.0" width="128.5" height="11.5" rx="3" fill="none" stroke="#5a5b63" stroke-width="2.2"/>
<rect x="403.0" y="1611.0" width="168.0" height="11.5" rx="3" fill="none" stroke="#5a5b63" stroke-width="2.2"/>
<rect x="486.8" y="1571.0" width="2.6" height="44.0"/>
<rect x="475.5" y="1614.0" width="25.0" height="3.5"/>
<rect x="270.0" y="1624.5" width="304.0" height="16.5"/>
<rect x="280.5" y="1627.5" width="19.0" height="3.6" rx="1.8" fill="#fff"/>
<rect x="302.5" y="1627.5" width="21.0" height="3.6" rx="1.8" fill="#fff"/>
<rect x="326.5" y="1627.5" width="36.0" height="3.6" rx="1.8" fill="#fff"/>
<rect x="365.5" y="1627.5" width="15.0" height="3.6" rx="1.8" fill="#fff"/>
<rect x="383.5" y="1627.5" width="11.0" height="3.6" rx="1.8" fill="#fff"/>
<rect x="397.5" y="1627.5" width="5.0" height="3.6" rx="1.8" fill="#fff"/>
<rect x="405.5" y="1627.5" width="18.0" height="3.6" rx="1.8" fill="#fff"/>
<rect x="426.5" y="1627.5" width="13.0" height="3.6" rx="1.8" fill="#fff"/>
<rect x="442.5" y="1627.5" width="35.0" height="3.6" rx="1.8" fill="#fff"/>
<rect x="480.5" y="1627.5" width="15.0" height="3.6" rx="1.8" fill="#fff"/>
<rect x="498.5" y="1627.5" width="38.0" height="3.6" rx="1.8" fill="#fff"/>
<rect x="539.5" y="1627.5" width="19.0" height="3.6" rx="1.8" fill="#fff"/>
<rect x="561.5" y="1627.5" width="9.0" height="3.6" rx="1.8" fill="#fff"/>
<rect x="573.0" y="1531.0" width="2.5" height="109.0"/>
<rect x="606.5" y="1563.0" width="5.0" height="36.5"/>
<rect x="606.5" y="1591.5" width="42.1" height="8.0"/>
<rect x="643.1" y="1591.5" width="5.0" height="36.5"/>
<rect x="643.1" y="1620.0" width="42.1" height="8.0"/>
<rect x="679.7" y="1620.0" width="5.0" height="36.5"/>
<rect x="679.7" y="1648.5" width="42.1" height="8.0"/>
<rect x="716.3" y="1648.5" width="5.0" height="36.5"/>
<rect x="716.3" y="1677.0" width="42.1" height="8.0"/>
<rect x="752.9" y="1677.0" width="5.0" height="36.5"/>
<rect x="752.9" y="1705.5" width="42.1" height="8.0"/>
<rect x="789.5" y="1705.5" width="5.0" height="36.5"/>
<rect x="789.5" y="1734.0" width="42.1" height="8.0"/>
<rect x="826.1" y="1734.0" width="5.0" height="36.5"/>
<rect x="826.1" y="1762.5" width="42.1" height="8.0"/>
<rect x="862.7" y="1762.5" width="5.0" height="36.5"/>
<rect x="862.7" y="1791.0" width="221.3" height="10.0"/>
<rect x="899.0" y="1827.0" width="183.0" height="3.0"/>
<line x1="906.5" y1="1801.0" x2="899.0" y2="1829.0" stroke="#5a5b63" stroke-width="2.4"/>
<rect x="1078.5" y="1791.0" width="5.5" height="41.0"/>
<line x1="574.0" y1="1531.0" x2="906.0" y2="1791.0" stroke="#5a5b63" stroke-width="2.3"/>
<line x1="574.0" y1="1581.0" x2="897.0" y2="1829.0" stroke="#5a5b63" stroke-width="2.3"/>
<line x1="610.0" y1="1564.0" x2="1084.0" y2="1564.0" stroke="#5a5b63" stroke-width="2.3"/>
<line x1="638.0" y1="1429.5" x2="1084.0" y2="1429.5" stroke="#5a5b63" stroke-width="2.3"/>
<line x1="872.0" y1="1613.0" x2="1084.0" y2="1613.0" stroke="#5a5b63" stroke-width="2.3"/>
<line x1="886.0" y1="1763.0" x2="1084.0" y2="1763.0" stroke="#5a5b63" stroke-width="2.3"/>
<rect x="566.5" y="1430.5" width="43.5" height="6.5" rx="3.2" fill="none" stroke="#5a5b63" stroke-width="2"/>
<polygon points="609.0,1432.0 638.0,1420.0 638.0,1444.0" stroke="#5a5b63" stroke-width="3" stroke-linejoin="round"/>
<polygon points="847.0,1613.0 871.5,1601.0 871.5,1625.0" stroke="#5a5b63" stroke-width="3" stroke-linejoin="round"/>
<rect x="902.0" y="1658.0" width="46.0" height="6.5" rx="3.2" fill="none" stroke="#5a5b63" stroke-width="2"/>
<polygon points="950.5,1668.0 976.0,1656.0 976.0,1680.0" stroke="#5a5b63" stroke-width="3" stroke-linejoin="round"/>
<line x1="976.0" y1="1668.5" x2="1084.0" y2="1685.5" stroke="#5a5b63" stroke-width="2.3" stroke-dasharray="11 3.5"/>
<polygon points="864.0,1764.5 885.5,1752.5 885.5,1776.5" stroke="#5a5b63" stroke-width="3" stroke-linejoin="round"/>
<line x1="608.4" y1="1436.1" x2="900.9" y2="1663.1" stroke="#5a5b63" stroke-width="1.5"/>
<line x1="611.6" y1="1431.9" x2="904.1" y2="1658.9" stroke="#5a5b63" stroke-width="1.5"/>
<circle cx="938.0" cy="1564.0" r="2.4"/>
<circle cx="938.0" cy="1429.5" r="2.4"/>
<circle cx="938.0" cy="1613.0" r="2.4"/>
<circle cx="938.0" cy="1763.0" r="2.4"/>
<circle cx="938.0" cy="1801.0" r="2.4"/>
<circle cx="938.0" cy="1829.0" r="2.4"/>
<rect x="270.0" y="2049.0" width="342.0" height="9.5"/>
<rect x="270.0" y="2060.0" width="27.5" height="34.5" rx="3" fill="none" stroke="#5a5b63" stroke-width="2.4"/>
<rect x="300.5" y="2060.0" width="45.0" height="34.5" rx="3" fill="none" stroke="#5a5b63" stroke-width="2.4"/>
<rect x="348.0" y="2060.0" width="48.5" height="34.5" rx="3" fill="none" stroke="#5a5b63" stroke-width="2.4"/>
<rect x="402.0" y="2060.0" width="37.5" height="34.5" rx="3" fill="none" stroke="#5a5b63" stroke-width="2.4"/>
<rect x="442.5" y="2060.0" width="44.0" height="34.5" rx="3" fill="none" stroke="#5a5b63" stroke-width="2.4"/>
<rect x="490.0" y="2060.0" width="81.0" height="34.5" rx="3" fill="none" stroke="#5a5b63" stroke-width="2.4"/>
<rect x="270.0" y="2098.0" width="128.5" height="11.5" rx="3" fill="none" stroke="#5a5b63" stroke-width="2.2"/>
<rect x="403.0" y="2098.0" width="168.0" height="11.5" rx="3" fill="none" stroke="#5a5b63" stroke-width="2.2"/>
<rect x="486.8" y="2058.0" width="2.6" height="44.0"/>
<rect x="475.5" y="2101.0" width="25.0" height="3.5"/>
<rect x="270.0" y="2111.5" width="304.0" height="16.5"/>
<rect x="280.5" y="2114.5" width="19.0" height="3.6" rx="1.8" fill="#fff"/>
<rect x="302.5" y="2114.5" width="21.0" height="3.6" rx="1.8" fill="#fff"/>
<rect x="326.5" y="2114.5" width="36.0" height="3.6" rx="1.8" fill="#fff"/>
<rect x="365.5" y="2114.5" width="15.0" height="3.6" rx="1.8" fill="#fff"/>
<rect x="383.5" y="2114.5" width="11.0" height="3.6" rx="1.8" fill="#fff"/>
<rect x="397.5" y="2114.5" width="5.0" height="3.6" rx="1.8" fill="#fff"/>
<rect x="405.5" y="2114.5" width="18.0" height="3.6" rx="1.8" fill="#fff"/>
<rect x="426.5" y="2114.5" width="13.0" height="3.6" rx="1.8" fill="#fff"/>
<rect x="442.5" y="2114.5" width="35.0" height="3.6" rx="1.8" fill="#fff"/>
<rect x="480.5" y="2114.5" width="15.0" height="3.6" rx="1.8" fill="#fff"/>
<rect x="498.5" y="2114.5" width="38.0" height="3.6" rx="1.8" fill="#fff"/>
<rect x="539.5" y="2114.5" width="19.0" height="3.6" rx="1.8" fill="#fff"/>
<rect x="561.5" y="2114.5" width="9.0" height="3.6" rx="1.8" fill="#fff"/>
<rect x="573.0" y="2018.0" width="2.5" height="109.0"/>
<rect x="606.5" y="2050.0" width="5.0" height="36.5"/>
<rect x="606.5" y="2078.5" width="42.1" height="8.0"/>
<rect x="643.1" y="2078.5" width="5.0" height="36.5"/>
<rect x="643.1" y="2107.0" width="42.1" height="8.0"/>
<rect x="679.7" y="2107.0" width="5.0" height="36.5"/>
<rect x="679.7" y="2135.5" width="42.1" height="8.0"/>
<rect x="716.3" y="2135.5" width="5.0" height="36.5"/>
<rect x="716.3" y="2164.0" width="42.1" height="8.0"/>
<rect x="752.9" y="2164.0" width="5.0" height="36.5"/>
<rect x="752.9" y="2192.5" width="42.1" height="8.0"/>
<rect x="789.5" y="2192.5" width="5.0" height="36.5"/>
<rect x="789.5" y="2221.0" width="42.1" height="8.0"/>
<rect x="826.1" y="2221.0" width="5.0" height="36.5"/>
<rect x="826.1" y="2249.5" width="42.1" height="8.0"/>
<rect x="862.7" y="2249.5" width="5.0" height="36.5"/>
<rect x="862.7" y="2278.0" width="221.3" height="10.0"/>
<rect x="899.0" y="2314.0" width="183.0" height="3.0"/>
<line x1="906.5" y1="2288.0" x2="899.0" y2="2316.0" stroke="#5a5b63" stroke-width="2.4"/>
<rect x="1078.5" y="2278.0" width="5.5" height="41.0"/>
<line x1="574.0" y1="2018.0" x2="906.0" y2="2278.0" stroke="#5a5b63" stroke-width="2.3"/>
<line x1="574.0" y1="2068.0" x2="897.0" y2="2316.0" stroke="#5a5b63" stroke-width="2.3"/>
<line x1="610.0" y1="2051.0" x2="1084.0" y2="2051.0" stroke="#5a5b63" stroke-width="2.3"/>
<line x1="638.0" y1="1916.5" x2="1084.0" y2="1916.5" stroke="#5a5b63" stroke-width="2.3"/>
<line x1="872.0" y1="2100.0" x2="1084.0" y2="2100.0" stroke="#5a5b63" stroke-width="2.3"/>
<line x1="886.0" y1="2250.0" x2="1084.0" y2="2250.0" stroke="#5a5b63" stroke-width="2.3"/>
<rect x="566.5" y="1917.5" width="43.5" height="6.5" rx="3.2" fill="none" stroke="#5a5b63" stroke-width="2"/>
<polygon points="609.0,1919.0 638.0,1907.0 638.0,1931.0" stroke="#5a5b63" stroke-width="3" stroke-linejoin="round"/>
<polygon points="847.0,2100.0 871.5,2088.0 871.5,2112.0" stroke="#5a5b63" stroke-width="3" stroke-linejoin="round"/>
<rect x="902.0" y="2145.0" width="46.0" height="6.5" rx="3.2" fill="none" stroke="#5a5b63" stroke-width="2"/>
<polygon points="950.5,2155.0 976.0,2143.0 976.0,2167.0" stroke="#5a5b63" stroke-width="3" stroke-linejoin="round"/>
<line x1="976.0" y1="2155.5" x2="1084.0" y2="2172.5" stroke="#5a5b63" stroke-width="2.3" stroke-dasharray="11 3.5"/>
<polygon points="864.0,2251.5 885.5,2239.5 885.5,2263.5" stroke="#5a5b63" stroke-width="3" stroke-linejoin="round"/>
<line x1="608.4" y1="1923.1" x2="900.9" y2="2150.1" stroke="#5a5b63" stroke-width="1.5"/>
<line x1="611.6" y1="1918.9" x2="904.1" y2="2145.9" stroke="#5a5b63" stroke-width="1.5"/>
<circle cx="938.0" cy="2051.0" r="2.4"/>
<circle cx="938.0" cy="1916.5" r="2.4"/>
<circle cx="938.0" cy="2100.0" r="2.4"/>
<circle cx="938.0" cy="2250.0" r="2.4"/>
<circle cx="938.0" cy="2288.0" r="2.4"/>
<circle cx="938.0" cy="2316.0" r="2.4"/>
<rect x="270.0" y="2536.0" width="342.0" height="9.5"/>
<rect x="270.0" y="2547.0" width="27.5" height="34.5" rx="3" fill="none" stroke="#5a5b63" stroke-width="2.4"/>
<rect x="300.5" y="2547.0" width="45.0" height="34.5" rx="3" fill="none" stroke="#5a5b63" stroke-width="2.4"/>
<rect x="348.0" y="2547.0" width="48.5" height="34.5" rx="3" fill="none" stroke="#5a5b63" stroke-width="2.4"/>
<rect x="402.0" y="2547.0" width="37.5" height="34.5" rx="3" fill="none" stroke="#5a5b63" stroke-width="2.4"/>
<rect x="442.5" y="2547.0" width="44.0" height="34.5" rx="3" fill="none" stroke="#5a5b63" stroke-width="2.4"/>
<rect x="490.0" y="2547.0" width="81.0" height="34.5" rx="3" fill="none" stroke="#5a5b63" stroke-width="2.4"/>
<rect x="270.0" y="2585.0" width="128.5" height="11.5" rx="3" fill="none" stroke="#5a5b63" stroke-width="2.2"/>
<rect x="403.0" y="2585.0" width="168.0" height="11.5" rx="3" fill="none" stroke="#5a5b63" stroke-width="2.2"/>
<rect x="486.8" y="2545.0" width="2.6" height="44.0"/>
<rect x="475.5" y="2588.0" width="25.0" height="3.5"/>
<rect x="270.0" y="2598.5" width="304.0" height="16.5"/>
<rect x="280.5" y="2601.5" width="19.0" height="3.6" rx="1.8" fill="#fff"/>
<rect x="302.5" y="2601.5" width="21.0" height="3.6" rx="1.8" fill="#fff"/>
<rect x="326.5" y="2601.5" width="36.0" height="3.6" rx="1.8" fill="#fff"/>
<rect x="365.5" y="2601.5" width="15.0" height="3.6" rx="1.8" fill="#fff"/>
<rect x="383.5" y="2601.5" width="11.0" height="3.6" rx="1.8" fill="#fff"/>
<rect x="397.5" y="2601.5" width="5.0" height="3.6" rx="1.8" fill="#fff"/>
<rect x="405.5" y="2601.5" width="18.0" height="3.6" rx="1.8" fill="#fff"/>
<rect x="426.5" y="2601.5" width="13.0" height="3.6" rx="1.8" fill="#fff"/>
<rect x="442.5" y="2601.5" width="35.0" height="3.6" rx="1.8" fill="#fff"/>
<rect x="480.5" y="2601.5" width="15.0" height="3.6" rx="1.8" fill="#fff"/>
<rect x="498.5" y="2601.5" width="38.0" height="3.6" rx="1.8" fill="#fff"/>
<rect x="539.5" y="2601.5" width="19.0" height="3.6" rx="1.8" fill="#fff"/>
<rect x="561.5" y="2601.5" width="9.0" height="3.6" rx="1.8" fill="#fff"/>
<rect x="573.0" y="2505.0" width="2.5" height="109.0"/>
<rect x="606.5" y="2537.0" width="5.0" height="36.5"/>
<rect x="606.5" y="2565.5" width="42.1" height="8.0"/>
<rect x="643.1" y="2565.5" width="5.0" height="36.5"/>
<rect x="643.1" y="2594.0" width="42.1" height="8.0"/>
<rect x="679.7" y="2594.0" width="5.0" height="36.5"/>
<rect x="679.7" y="2622.5" width="42.1" height="8.0"/>
<rect x="716.3" y="2622.5" width="5.0" height="36.5"/>
<rect x="716.3" y="2651.0" width="42.1" height="8.0"/>
<rect x="752.9" y="2651.0" width="5.0" height="36.5"/>
<rect x="752.9" y="2679.5" width="42.1" height="8.0"/>
<rect x="789.5" y="2679.5" width="5.0" height="36.5"/>
<rect x="789.5" y="2708.0" width="42.1" height="8.0"/>
<rect x="826.1" y="2708.0" width="5.0" height="36.5"/>
<rect x="826.1" y="2736.5" width="42.1" height="8.0"/>
<rect x="862.7" y="2736.5" width="5.0" height="36.5"/>
<rect x="862.7" y="2765.0" width="221.3" height="10.0"/>
<rect x="899.0" y="2801.0" width="183.0" height="3.0"/>
<line x1="906.5" y1="2775.0" x2="899.0" y2="2803.0" stroke="#5a5b63" stroke-width="2.4"/>
<rect x="1078.5" y="2765.0" width="5.5" height="41.0"/>
<line x1="574.0" y1="2505.0" x2="906.0" y2="2765.0" stroke="#5a5b63" stroke-width="2.3"/>
<line x1="574.0" y1="2555.0" x2="897.0" y2="2803.0" stroke="#5a5b63" stroke-width="2.3"/>
<line x1="610.0" y1="2538.0" x2="1084.0" y2="2538.0" stroke="#5a5b63" stroke-width="2.3"/>
<line x1="638.0" y1="2403.5" x2="1084.0" y2="2403.5" stroke="#5a5b63" stroke-width="2.3"/>
<line x1="872.0" y1="2587.0" x2="1084.0" y2="2587.0" stroke="#5a5b63" stroke-width="2.3"/>
<line x1="886.0" y1="2737.0" x2="1084.0" y2="2737.0" stroke="#5a5b63" stroke-width="2.3"/>
<rect x="566.5" y="2404.5" width="43.5" height="6.5" rx="3.2" fill="none" stroke="#5a5b63" stroke-width="2"/>
<polygon points="609.0,2406.0 638.0,2394.0 638.0,2418.0" stroke="#5a5b63" stroke-width="3" stroke-linejoin="round"/>
<polygon points="847.0,2587.0 871.5,2575.0 871.5,2599.0" stroke="#5a5b63" stroke-width="3" stroke-linejoin="round"/>
<rect x="902.0" y="2632.0" width="46.0" height="6.5" rx="3.2" fill="none" stroke="#5a5b63" stroke-width="2"/>
<polygon points="950.5,2642.0 976.0,2630.0 976.0,2654.0" stroke="#5a5b63" stroke-width="3" stroke-linejoin="round"/>
<line x1="976.0" y1="2642.5" x2="1084.0" y2="2659.5" stroke="#5a5b63" stroke-width="2.3" stroke-dasharray="11 3.5"/>
<polygon points="864.0,2738.5 885.5,2726.5 885.5,2750.5" stroke="#5a5b63" stroke-width="3" stroke-linejoin="round"/>
<line x1="608.4" y1="2410.1" x2="900.9" y2="2637.1" stroke="#5a5b63" stroke-width="1.5"/>
<line x1="611.6" y1="2405.9" x2="904.1" y2="2632.9" stroke="#5a5b63" stroke-width="1.5"/>
<circle cx="938.0" cy="2538.0" r="2.4"/>
<circle cx="938.0" cy="2403.5" r="2.4"/>
<circle cx="938.0" cy="2587.0" r="2.4"/>
<circle cx="938.0" cy="2737.0" r="2.4"/>
<circle cx="938.0" cy="2775.0" r="2.4"/>
<circle cx="938.0" cy="2803.0" r="2.4"/>
<rect x="270.0" y="3021.0" width="232.0" height="9.5"/>
<rect x="270.0" y="3032.0" width="27.5" height="34.5" rx="3" fill="none" stroke="#5a5b63" stroke-width="2.4"/>
<rect x="300.5" y="3032.0" width="45.0" height="34.5" rx="3" fill="none" stroke="#5a5b63" stroke-width="2.4"/>
<rect x="348.0" y="3032.0" width="48.5" height="34.5" rx="3" fill="none" stroke="#5a5b63" stroke-width="2.4"/>
<rect x="402.0" y="3032.0" width="37.5" height="34.5" rx="3" fill="none" stroke="#5a5b63" stroke-width="2.4"/>
<rect x="442.5" y="3032.0" width="44.0" height="34.5" rx="3" fill="none" stroke="#5a5b63" stroke-width="2.4"/>
<rect x="270.0" y="3070.0" width="128.5" height="11.5" rx="3" fill="none" stroke="#5a5b63" stroke-width="2.2"/>
<rect x="403.0" y="3070.0" width="91.0" height="11.5" rx="3" fill="none" stroke="#5a5b63" stroke-width="2.2"/>
<rect x="457.0" y="3073.0" width="22.0" height="3.5"/>
<rect x="270.0" y="3083.5" width="227.0" height="16.5"/>
<rect x="280.5" y="3086.5" width="19.0" height="3.6" rx="1.8" fill="#fff"/>
<rect x="302.5" y="3086.5" width="21.0" height="3.6" rx="1.8" fill="#fff"/>
<rect x="326.5" y="3086.5" width="36.0" height="3.6" rx="1.8" fill="#fff"/>
<rect x="365.5" y="3086.5" width="15.0" height="3.6" rx="1.8" fill="#fff"/>
<rect x="383.5" y="3086.5" width="11.0" height="3.6" rx="1.8" fill="#fff"/>
<rect x="397.5" y="3086.5" width="5.0" height="3.6" rx="1.8" fill="#fff"/>
<rect x="405.5" y="3086.5" width="18.0" height="3.6" rx="1.8" fill="#fff"/>
<rect x="426.5" y="3086.5" width="13.0" height="3.6" rx="1.8" fill="#fff"/>
<rect x="442.5" y="3086.5" width="35.0" height="3.6" rx="1.8" fill="#fff"/>
<rect x="495.0" y="3022.0" width="7.0" height="77.0"/>
<rect x="464.0" y="2994.0" width="2.5" height="30.0"/>
<rect x="497.0" y="3022.0" width="5.0" height="35.6"/>
<rect x="497.0" y="3049.6" width="42.2" height="8.0"/>
<rect x="533.7" y="3049.6" width="5.0" height="35.6"/>
<rect x="533.7" y="3077.2" width="42.2" height="8.0"/>
<rect x="570.4" y="3077.2" width="5.0" height="35.6"/>
<rect x="570.4" y="3104.8" width="42.2" height="8.0"/>
<rect x="607.1" y="3104.8" width="5.0" height="35.6"/>
<rect x="607.1" y="3132.4" width="42.2" height="8.0"/>
<rect x="643.8" y="3132.4" width="5.0" height="35.6"/>
<rect x="643.8" y="3160.0" width="42.2" height="8.0"/>
<rect x="680.5" y="3160.0" width="5.0" height="35.6"/>
<rect x="680.5" y="3187.6" width="42.2" height="8.0"/>
<rect x="717.2" y="3187.6" width="5.0" height="35.6"/>
<rect x="717.2" y="3215.2" width="42.2" height="8.0"/>
<rect x="753.9" y="3215.2" width="5.0" height="35.6"/>
<rect x="753.9" y="3242.8" width="42.2" height="8.0"/>
<rect x="790.6" y="3242.8" width="5.0" height="35.6"/>
<rect x="790.6" y="3270.4" width="42.2" height="8.0"/>
<rect x="827.3" y="3270.4" width="5.0" height="35.6"/>
<rect x="827.3" y="3298.0" width="42.2" height="8.0"/>
<rect x="864.0" y="3298.0" width="5.0" height="35.6"/>
<rect x="864.0" y="3325.6" width="220.0" height="10.0"/>
<rect x="899.0" y="3361.6" width="183.0" height="3.0"/>
<line x1="906.5" y1="3335.6" x2="899.0" y2="3363.6" stroke="#5a5b63" stroke-width="2.4"/>
<rect x="1078.5" y="3325.6" width="5.5" height="41.0"/>
<line x1="465.0" y1="2994.0" x2="906.0" y2="3325.6" stroke="#5a5b63" stroke-width="2.3"/>
<line x1="502.0" y1="3068.0" x2="897.0" y2="3363.6" stroke="#5a5b63" stroke-width="2.3"/>
<line x1="502.0" y1="3023.0" x2="1084.0" y2="3023.0" stroke="#5a5b63" stroke-width="2.3"/>
<line x1="502.0" y1="3097.5" x2="1084.0" y2="3097.5" stroke="#5a5b63" stroke-width="2.3"/>
<rect x="456.0" y="2891.0" width="36.0" height="6.5" rx="3.2" fill="none" stroke="#5a5b63" stroke-width="2"/>
<polygon points="492.0,2893.0 520.5,2881.0 520.5,2905.0" stroke="#5a5b63" stroke-width="3" stroke-linejoin="round"/>
<line x1="521.0" y1="2894.0" x2="1084.0" y2="2894.0" stroke="#5a5b63" stroke-width="2.3"/>
<polygon points="742.0,3074.0 769.5,3062.0 769.5,3086.0" stroke="#5a5b63" stroke-width="3" stroke-linejoin="round"/>
<line x1="770.0" y1="3074.0" x2="1084.0" y2="3074.0" stroke="#5a5b63" stroke-width="2.3"/>
<rect x="902.5" y="3195.0" width="47.5" height="7.0" rx="3.5" fill="none" stroke="#5a5b63" stroke-width="2"/>
<polygon points="952.0,3199.0 979.5,3187.0 979.5,3211.0" stroke="#5a5b63" stroke-width="3" stroke-linejoin="round"/>
<line x1="980.0" y1="3199.0" x2="1084.0" y2="3199.0" stroke="#5a5b63" stroke-width="2.3"/>
<polygon points="822.0,3272.0 837.5,3262.0 837.5,3282.0" stroke="#5a5b63" stroke-width="3" stroke-linejoin="round"/>
<line x1="838.0" y1="3272.0" x2="1084.0" y2="3272.0" stroke="#5a5b63" stroke-width="2.3"/>
<line x1="492.4" y1="2899.1" x2="900.9" y2="3199.1" stroke="#5a5b63" stroke-width="1.5"/>
<line x1="495.6" y1="2894.9" x2="904.1" y2="3194.9" stroke="#5a5b63" stroke-width="1.5"/>
<circle cx="938.0" cy="2894.0" r="2.4"/>
<circle cx="938.0" cy="3023.0" r="2.4"/>
<circle cx="938.0" cy="3074.0" r="2.4"/>
<circle cx="938.0" cy="3097.5" r="2.4"/>
<circle cx="938.0" cy="3199.0" r="2.4"/>
<circle cx="938.0" cy="3272.0" r="2.4"/>
<circle cx="938.0" cy="3330.6" r="2.4"/>
<circle cx="938.0" cy="3363.6" r="2.4"/>
<rect x="499.0" y="3600.0" width="2.5" height="34.0"/>
<rect x="354.0" y="3602.0" width="2.0" height="32.0"/>
<line x1="500.0" y1="3600.0" x2="906.0" y2="3917.0" stroke="#5a5b63" stroke-width="2.3"/>
<rect x="533.0" y="3632.0" width="5.0" height="35.7"/>
<rect x="533.0" y="3660.7" width="42.4" height="7.0"/>
<rect x="569.9" y="3660.7" width="5.0" height="35.7"/>
<rect x="569.9" y="3689.4" width="42.4" height="7.0"/>
<rect x="606.8" y="3689.4" width="5.0" height="35.7"/>
<rect x="606.8" y="3718.1" width="42.4" height="7.0"/>
<rect x="643.7" y="3718.1" width="5.0" height="35.7"/>
<rect x="643.7" y="3746.8" width="42.4" height="7.0"/>
<rect x="680.6" y="3746.8" width="5.0" height="35.7"/>
<rect x="680.6" y="3775.5" width="42.4" height="7.0"/>
<rect x="717.5" y="3775.5" width="5.0" height="35.7"/>
<rect x="717.5" y="3804.2" width="42.4" height="7.0"/>
<rect x="754.4" y="3804.2" width="5.0" height="35.7"/>
<rect x="754.4" y="3832.9" width="42.4" height="7.0"/>
<rect x="791.3" y="3832.9" width="5.0" height="35.7"/>
<rect x="791.3" y="3861.6" width="42.4" height="7.0"/>
<rect x="828.2" y="3861.6" width="5.0" height="35.7"/>
<rect x="828.2" y="3890.3" width="42.4" height="7.0"/>
<rect x="865.1" y="3890.3" width="5.0" height="35.7"/>
<path d="M600 3728 L849 3922 L1084 3922" fill="none" stroke="#5a5b63" stroke-width="10"/>
<path d="M600 3752 L892 3980 L1084 3980" fill="none" stroke="#5a5b63" stroke-width="12"/>
<rect x="1078.5" y="3917.0" width="5.5" height="70.0"/>
<rect x="900.0" y="3931.0" width="182.0" height="2.0"/>
<rect x="900.0" y="3957.0" width="182.0" height="4.0"/>
<line x1="906.0" y1="3928.0" x2="899.0" y2="3960.0" stroke="#5a5b63" stroke-width="2.4"/>
<rect x="494.0" y="3499.0" width="36.0" height="6.5" rx="3.2" fill="none" stroke="#5a5b63" stroke-width="2"/>
<polygon points="530.0,3500.0 557.0,3488.0 557.0,3512.0" stroke="#5a5b63" stroke-width="3" stroke-linejoin="round"/>
<line x1="557.0" y1="3500.0" x2="1084.0" y2="3500.0" stroke="#5a5b63" stroke-width="2.3"/>
<line x1="530.4" y1="3507.1" x2="903.4" y2="3792.1" stroke="#5a5b63" stroke-width="1.5"/>
<line x1="533.6" y1="3502.9" x2="906.6" y2="3787.9" stroke="#5a5b63" stroke-width="1.5"/>
<polygon points="772.0,3681.0 795.5,3669.0 795.5,3693.0" stroke="#5a5b63" stroke-width="3" stroke-linejoin="round"/>
<line x1="796.0" y1="3681.0" x2="1084.0" y2="3681.0" stroke="#5a5b63" stroke-width="2.3"/>
<line x1="640.0" y1="3704.0" x2="1084.0" y2="3704.0" stroke="#5a5b63" stroke-width="2.3"/>
<polygon points="917.0,3789.0 941.5,3779.0 941.5,3799.0" stroke="#5a5b63" stroke-width="3" stroke-linejoin="round"/>
<line x1="905.0" y1="3790.0" x2="1084.0" y2="3789.0" stroke="#5a5b63" stroke-width="2.3"/>
<polygon points="814.0,3862.0 836.5,3850.0 836.5,3874.0" stroke="#5a5b63" stroke-width="3" stroke-linejoin="round"/>
<line x1="837.0" y1="3862.0" x2="1084.0" y2="3862.0" stroke="#5a5b63" stroke-width="2.3"/>
<circle cx="938.0" cy="3500.0" r="2.4"/>
<circle cx="938.0" cy="3633.0" r="2.4"/>
<circle cx="938.0" cy="3681.0" r="2.4"/>
<circle cx="938.0" cy="3704.0" r="2.4"/>
<circle cx="938.0" cy="3789.0" r="2.4"/>
<circle cx="938.0" cy="3862.0" r="2.4"/>
<line x1="745.0" y1="3855.0" x2="745.0" y2="3912.0" stroke="#5a5b63" stroke-width="2.3"/>
<circle cx="744.5" cy="3857.0" r="9"/>
<rect x="701.5" y="3912" width="50" height="144" fill="none" stroke="#5a5b63" stroke-width="2"/>
<rect x="944" y="4022" width="52" height="144" fill="none" stroke="#5a5b63" stroke-width="2"/>
<polygon points="990.0,3962.0 982.0,3974.0 998.0,3974.0"/>
<line x1="990.0" y1="3987.0" x2="990.0" y2="4022.0" stroke="#5a5b63" stroke-width="2.3"/>
<text transform="translate(744,4050) rotate(-90)" font-size="41" textLength="132" lengthAdjust="spacingAndGlyphs" fill="#85868c" stroke="none">C1S.2.2</text>
<text transform="translate(988,4160) rotate(-90)" font-size="41" textLength="132" lengthAdjust="spacingAndGlyphs" fill="#85868c" stroke="none">C1S.2.2</text>
<polygon points="782.0,4051.0 808.5,4039.0 808.5,4063.0" stroke="#5a5b63" stroke-width="3" stroke-linejoin="round"/>
<line x1="809.0" y1="4051.0" x2="1084.0" y2="4051.0" stroke="#5a5b63" stroke-width="2.3"/>
<rect x="739.0" y="4105.0" width="33.0" height="6.5" rx="3.2" fill="none" stroke="#5a5b63" stroke-width="2"/>
<polygon points="772.0,4109.0 796.5,4097.0 796.5,4121.0" stroke="#5a5b63" stroke-width="3" stroke-linejoin="round"/>
<line x1="797.0" y1="4109.5" x2="1084.0" y2="4130.0" stroke="#5a5b63" stroke-width="2.3" stroke-dasharray="11 3.5"/>
<line x1="795.4" y1="4122.1" x2="918.4" y2="4219.1" stroke="#5a5b63" stroke-width="1.5"/>
<line x1="798.6" y1="4117.9" x2="921.6" y2="4214.9" stroke="#5a5b63" stroke-width="1.5"/>
<polygon points="918.0,4220.0 945.5,4208.0 945.5,4232.0" stroke="#5a5b63" stroke-width="3" stroke-linejoin="round"/>
<rect x="946.0" y="4218.0" width="121.0" height="4.5"/>
<circle cx="1065.0" cy="4220.0" r="4"/>
<line x1="745.0" y1="4237.0" x2="1084.0" y2="4237.0" stroke="#5a5b63" stroke-width="2.3"/>
<rect x="744.0" y="4206.0" width="2.5" height="31.0"/>
<line x1="745.0" y1="4206.0" x2="925.0" y2="4352.0" stroke="#5a5b63" stroke-width="2.3"/>
<polygon points="857.0,4302.0 881.5,4290.0 881.5,4314.0" stroke="#5a5b63" stroke-width="3" stroke-linejoin="round"/>
<line x1="882.0" y1="4301.0" x2="1084.0" y2="4301.0" stroke="#5a5b63" stroke-width="2.3"/>
<line x1="1035.0" y1="4237.0" x2="1035.0" y2="4360.0" stroke="#5a5b63" stroke-width="2.3"/>
<rect x="1070.0" y="4275.0" width="7.0" height="77.0"/>
<polygon points="780.0,4240.0 792.0,4238.0 790.0,4252.0"/>
<polygon points="811.0,4265.5 823.0,4263.5 821.0,4277.5"/>
<polygon points="842.0,4291.0 854.0,4289.0 852.0,4303.0"/>
<polygon points="873.0,4316.5 885.0,4314.5 883.0,4328.5"/>
<polygon points="904.0,4342.0 916.0,4340.0 914.0,4354.0"/>
<rect x="270.0" y="164.7" width="814.0" height="11.6"/>
<rect x="280.0" y="166.3" width="36" height="2.8" rx="1.4" fill="#fff"/>
<rect x="320.2" y="166.3" width="36" height="2.8" rx="1.4" fill="#fff"/>
<rect x="360.4" y="166.3" width="36" height="2.8" rx="1.4" fill="#fff"/>
<rect x="400.6" y="166.3" width="36" height="2.8" rx="1.4" fill="#fff"/>
<rect x="440.8" y="166.3" width="36" height="2.8" rx="1.4" fill="#fff"/>
<rect x="481.0" y="166.3" width="36" height="2.8" rx="1.4" fill="#fff"/>
<rect x="521.2" y="166.3" width="36" height="2.8" rx="1.4" fill="#fff"/>
<rect x="561.4" y="166.3" width="36" height="2.8" rx="1.4" fill="#fff"/>
<rect x="601.6" y="166.3" width="36" height="2.8" rx="1.4" fill="#fff"/>
<rect x="641.8" y="166.3" width="36" height="2.8" rx="1.4" fill="#fff"/>
<rect x="682.0" y="166.3" width="36" height="2.8" rx="1.4" fill="#fff"/>
<rect x="722.2" y="166.3" width="36" height="2.8" rx="1.4" fill="#fff"/>
<rect x="762.4" y="166.3" width="36" height="2.8" rx="1.4" fill="#fff"/>
<rect x="802.6" y="166.3" width="36" height="2.8" rx="1.4" fill="#fff"/>
<rect x="842.8" y="166.3" width="36" height="2.8" rx="1.4" fill="#fff"/>
<rect x="883.0" y="166.3" width="36" height="2.8" rx="1.4" fill="#fff"/>
<rect x="923.2" y="166.3" width="36" height="2.8" rx="1.4" fill="#fff"/>
<rect x="963.4" y="166.3" width="36" height="2.8" rx="1.4" fill="#fff"/>
<rect x="1003.6" y="166.3" width="36" height="2.8" rx="1.4" fill="#fff"/>
<rect x="1043.8" y="166.3" width="36" height="2.8" rx="1.4" fill="#fff"/>
<line x1="401.0" y1="170.0" x2="401.0" y2="3633.0" stroke="#5a5b63" stroke-width="2.8"/>
<line x1="938.0" y1="170.0" x2="938.0" y2="4360.0" stroke="#5a5b63" stroke-width="2.8"/>
<line x1="1084.5" y1="170.0" x2="1084.5" y2="4360.0" stroke="#5a5b63" stroke-width="2.4"/>
<rect x="354.0" y="242.0" width="2.2" height="174.0"/>
<rect x="354.0" y="482.0" width="2.2" height="43.0"/>
<rect x="354.0" y="665.0" width="2.2" height="97.0"/>
<rect x="354.0" y="829.0" width="2.2" height="42.0"/>
<rect x="354.0" y="935.0" width="2.2" height="139.0"/>
<rect x="354.0" y="1175.0" width="2.2" height="44.0"/>
<rect x="354.0" y="1282.0" width="2.2" height="173.0"/>
<rect x="354.0" y="1522.0" width="2.2" height="40.0"/>
<rect x="354.0" y="1637.0" width="2.2" height="167.0"/>
<rect x="354.0" y="1867.0" width="2.2" height="43.0"/>
<rect x="354.0" y="1977.0" width="2.2" height="72.0"/>
<rect x="354.0" y="2125.0" width="2.2" height="25.0"/>
<rect x="354.0" y="2217.0" width="2.2" height="43.0"/>
<rect x="354.0" y="2324.0" width="2.2" height="176.0"/>
<rect x="354.0" y="2562.0" width="2.2" height="20.0"/>
<rect x="354.0" y="2670.0" width="2.2" height="172.0"/>
<rect x="354.0" y="2911.0" width="2.2" height="41.0"/>
<rect x="354.0" y="3002.0" width="2.2" height="20.0"/>
<rect x="354.0" y="3102.0" width="2.2" height="88.0"/>
<rect x="354.0" y="3257.0" width="2.2" height="43.0"/>
<rect x="354.0" y="3362.0" width="2.2" height="178.0"/>
<rect x="275.8" y="148.0" width="2.2" height="3486.0"/>
<rect x="270.0" y="3631.5" width="814.0" height="3.5"/>
<line x1="535.0" y1="3634.0" x2="621.5" y2="3719.0" stroke="#5a5b63" stroke-width="2.4"/>
<rect x="922.0" y="4357.0" width="173.0" height="4.0"/>
</g>
<g>
<rect x="1154.0" y="171.0" width="115.3" height="100.0" fill="#49445f"/>
<rect x="1153.6" y="277.5" width="14.4" height="36.3" fill="#7b4460"/>
<rect x="1170.4" y="277.5" width="14.6" height="36.3" fill="#75607f"/>
<rect x="1187.6" y="277.5" width="14.1" height="36.3" fill="#a8e08a"/>
<rect x="1204.4" y="277.5" width="14.6" height="36.3" fill="#79c18f"/>
<rect x="1221.6" y="277.5" width="13.4" height="36.3" fill="#3f8a8f"/>
<rect x="1238.0" y="277.5" width="12.7" height="36.3" fill="#385a92"/>
<rect x="1250.7" y="277.5" width="1.8" height="36.3" fill="#aab0d0"/>
<text x="1293.4" y="301.0" font-size="17.5" fill="#2a2a2a" textLength="90.1" lengthAdjust="spacingAndGlyphs">8 - Midnight</text>
<text x="1164.5" y="342.0" font-size="17.5" fill="#606060" textLength="347.9" lengthAdjust="spacingAndGlyphs">8 - Winter solstice (December 21) Shortest day</text>
<rect x="1152.7" y="841.8" width="116.6" height="99.8" fill="#9478b0"/>
<rect x="1153.6" y="952.0" width="36.1" height="37.2" fill="#e07868"/>
<rect x="1189.4" y="952.0" width="36.6" height="37.2" fill="#a0565f"/>
<rect x="1225.7" y="952.0" width="37.1" height="37.2" fill="#6a4558"/>
<rect x="1262.5" y="952.0" width="37.0" height="37.2" fill="#2a2748"/>
<rect x="1299.2" y="952.0" width="36.1" height="37.2" fill="#211f3f"/>
<text x="1376.3" y="975.6" font-size="17.5" fill="#2a2a2a" textLength="63.5" lengthAdjust="spacingAndGlyphs">7 - Dusk</text>
<text x="1158.0" y="1011.9" font-size="17.5" fill="#606060" textLength="108.0" lengthAdjust="spacingAndGlyphs">7 - Fall/Winter</text>
<rect x="1153.6" y="1341.3" width="116.1" height="99.4" fill="#d4bfd1"/>
<rect x="1153.6" y="1449.7" width="37.0" height="37.2" fill="#e8614a"/>
<rect x="1190.3" y="1449.7" width="38.4" height="37.2" fill="#f4a070"/>
<rect x="1228.4" y="1449.7" width="38.9" height="37.2" fill="#d27878"/>
<rect x="1267.0" y="1449.7" width="38.8" height="37.2" fill="#83587c"/>
<rect x="1305.5" y="1449.7" width="38.9" height="37.2" fill="#564674"/>
<rect x="1344.1" y="1449.7" width="38.0" height="37.2" fill="#342f5c"/>
<text x="1423.5" y="1472.9" font-size="17.5" fill="#2a2a2a" textLength="82.1" lengthAdjust="spacingAndGlyphs">6 - Evening</text>
<text x="1158.0" y="1511.4" font-size="17.5" fill="#606060" textLength="348.5" lengthAdjust="spacingAndGlyphs">6 - Fall Equinoq (September 23) Equal day/nigl</text>
<rect x="1152.7" y="1843.6" width="58.0" height="101.1" fill="#b8dcec"/>
<rect x="1210.7" y="1843.6" width="57.7" height="101.1" fill="#addbef"/>
<rect x="1154.0" y="1952.0" width="38.4" height="37.2" fill="#f7a82a"/>
<rect x="1192.1" y="1952.0" width="35.2" height="37.2" fill="#f8c458"/>
<rect x="1227.0" y="1952.0" width="35.8" height="37.2" fill="#fdf5b0"/>
<rect x="1262.5" y="1952.0" width="35.2" height="37.2" fill="#1f6b60"/>
<text x="1339.0" y="1975.0" font-size="17.5" fill="#2a2a2a" textLength="98.6" lengthAdjust="spacingAndGlyphs">5 - Afternoon</text>
<text x="1159.0" y="2016.9" font-size="17.5" fill="#606060" textLength="124.3" lengthAdjust="spacingAndGlyphs">5 - Summer/Fall</text>
<rect x="1151.3" y="2339.5" width="120.2" height="101.6" fill="#7bb3d5"/>
<rect x="1153.1" y="2451.5" width="46.3" height="37.2" fill="#55b0d8"/>
<rect x="1205.8" y="2451.5" width="48.5" height="37.2" fill="#ffe600"/>
<rect x="1261.1" y="2451.5" width="48.5" height="37.2" fill="#ff8500"/>
<rect x="1316.4" y="2451.5" width="48.6" height="37.2" fill="#d85000"/>
<rect x="1371.3" y="2451.5" width="48.1" height="37.2" fill="#f5304a"/>
<text x="1460.7" y="2475.6" font-size="17.5" fill="#2a2a2a" textLength="84.3" lengthAdjust="spacingAndGlyphs">4 - Mid-day</text>
<text x="1160.0" y="2517.3" font-size="17.5" fill="#606060" textLength="311.1" lengthAdjust="spacingAndGlyphs">4 - Summer soltice (June 20) Longest day</text>
<rect x="1152.2" y="2821.3" width="119.8" height="101.6" fill="#3a6898"/>
<rect x="1153.6" y="2930.6" width="28.0" height="37.2" fill="#70c5d5"/>
<rect x="1181.3" y="2930.6" width="32.0" height="37.2" fill="#e8eae0"/>
<rect x="1213.0" y="2930.6" width="31.6" height="37.2" fill="#f57a92"/>
<rect x="1244.3" y="2930.6" width="32.0" height="37.2" fill="#f8be28"/>
<rect x="1276.0" y="2930.6" width="28.5" height="37.2" fill="#fae610"/>
<text x="1344.6" y="2953.3" font-size="17.5" fill="#2a2a2a" textLength="87.1" lengthAdjust="spacingAndGlyphs">3 - Morning</text>
<text x="1161.8" y="2997.8" font-size="17.5" fill="#606060" textLength="145.2" lengthAdjust="spacingAndGlyphs">3 - Spring/Summer</text>
<rect x="1151.3" y="3356.8" width="116.6" height="101.1" fill="#51727d"/>
<rect x="1153.6" y="3471.5" width="31.1" height="37.2" fill="#8edde0"/>
<rect x="1184.4" y="3471.5" width="32.1" height="37.2" fill="#96e0b8"/>
<rect x="1216.2" y="3471.5" width="32.9" height="37.2" fill="#a5dca0"/>
<rect x="1248.8" y="3471.5" width="32.5" height="37.2" fill="#cfe4b8"/>
<rect x="1281.0" y="3471.5" width="32.6" height="37.2" fill="#e6eaa0"/>
<text x="1354.5" y="3494.2" font-size="17.5" fill="#2a2a2a" textLength="128.9" lengthAdjust="spacingAndGlyphs">2 - Early Morning</text>
<text x="1164.0" y="3532.3" font-size="17.5" fill="#606060" textLength="343.0" lengthAdjust="spacingAndGlyphs">2 - Spring Equinox (March 21) Equal day/night</text>
<rect x="1151.8" y="3981.8" width="116.6" height="102.0" fill="#d6bc66"/>
<rect x="1154.5" y="4097.4" width="33.1" height="37.7" fill="#5a9498"/>
<rect x="1193.0" y="4097.4" width="33.2" height="37.7" fill="#e8e8c0"/>
<rect x="1231.2" y="4097.4" width="33.5" height="37.7" fill="#fed888"/>
<rect x="1269.7" y="4097.4" width="33.1" height="37.7" fill="#ffa878"/>
<text x="1346.8" y="4121.0" font-size="17.5" fill="#2a2a2a" textLength="66.2" lengthAdjust="spacingAndGlyphs">1 - Dawn</text>
<text x="1350.0" y="4157.8" font-size="17.5" fill="#606060" textLength="128.4" lengthAdjust="spacingAndGlyphs">1 - Winter/Spring</text>
</g>
</svg>
</body></html>
